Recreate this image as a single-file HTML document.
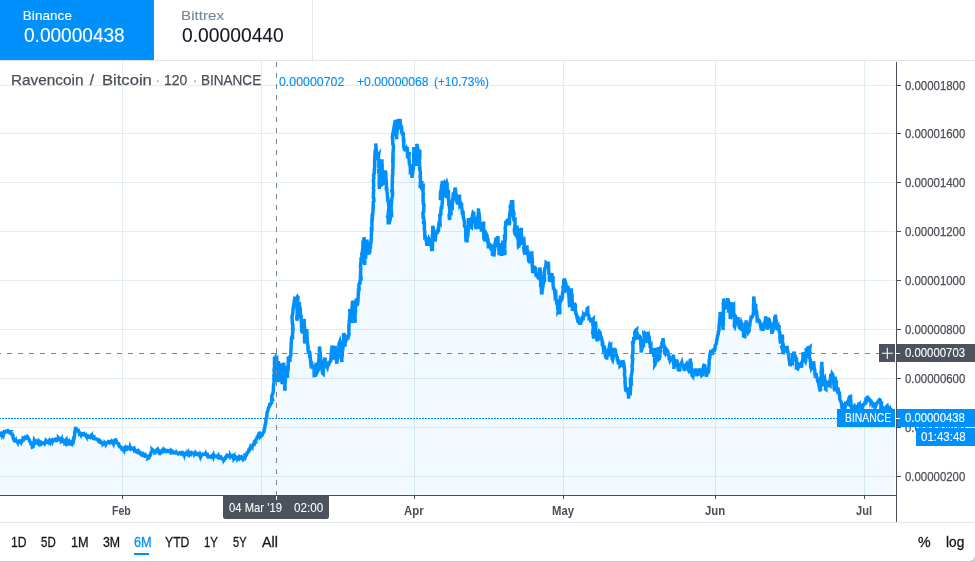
<!DOCTYPE html>
<html><head><meta charset="utf-8"><title>Ravencoin / Bitcoin</title>
<style>
html,body{margin:0;padding:0;background:#fff;}
body{width:975px;height:562px;position:relative;overflow:hidden;font-family:"Liberation Sans",sans-serif;color:#131722;}
.a{position:absolute;}
.t{position:absolute;white-space:nowrap;}
</style></head><body>

<div class="a" style="left:0;top:0;width:154px;height:60px;background:#0090fb;"></div>
<div class="a" style="left:312px;top:0;width:1px;height:60px;background:#e3e8ec;"></div>
<div class="a" style="left:0;top:60px;width:975px;height:1px;background:#e3e8ec;"></div>
<svg class="a" style="left:0;top:0;" width="975" height="562" viewBox="0 0 975 562">
<svg x="0" y="61" width="895" height="434" viewBox="0 61 895 434" overflow="hidden">
<rect x="0" y="85" width="895" height="1" fill="#e1ecf2"/>
<rect x="0" y="133" width="895" height="1" fill="#e1ecf2"/>
<rect x="0" y="182" width="895" height="1" fill="#e1ecf2"/>
<rect x="0" y="231" width="895" height="1" fill="#e1ecf2"/>
<rect x="0" y="280" width="895" height="1" fill="#e1ecf2"/>
<rect x="0" y="329" width="895" height="1" fill="#e1ecf2"/>
<rect x="0" y="378" width="895" height="1" fill="#e1ecf2"/>
<rect x="0" y="427" width="895" height="1" fill="#e1ecf2"/>
<rect x="0" y="476" width="895" height="1" fill="#e1ecf2"/>
<rect x="122" y="61" width="1" height="434" fill="#e1ecf2"/>
<rect x="261" y="61" width="1" height="434" fill="#e1ecf2"/>
<rect x="414" y="61" width="1" height="434" fill="#e1ecf2"/>
<rect x="563" y="61" width="1" height="434" fill="#e1ecf2"/>
<rect x="715" y="61" width="1" height="434" fill="#e1ecf2"/>
<rect x="864" y="61" width="1" height="434" fill="#e1ecf2"/>
<path d="M-0.3,435.1 L0.3,435.3 L0.5,434.3 L1.2,434.9 L1.7,434.6 L2.1,434.0 L2.3,431.3 L2.6,434.6 L3.3,433.3 L3.6,434.2 L4.2,431.9 L4.4,432.7 L5.1,431.9 L5.2,431.8 L5.9,431.2 L6.5,431.1 L6.3,431.6 L6.7,431.8 L7.6,431.0 L7.9,430.7 L8.4,431.0 L8.6,431.3 L9.1,431.8 L9.7,431.8 L9.5,432.0 L10.0,433.1 L10.4,433.1 L11.0,433.5 L11.5,433.9 L12.1,434.0 L12.2,434.9 L13.0,435.6 L12.9,437.4 L13.6,438.8 L13.9,439.9 L14.7,441.2 L14.9,442.3 L15.4,440.2 L15.5,442.3 L16.1,440.8 L16.2,441.1 L16.5,441.1 L17.1,441.3 L17.7,442.4 L18.0,441.2 L18.7,441.3 L18.6,441.6 L19.2,441.0 L19.4,440.9 L20.1,441.9 L20.8,442.6 L21.1,441.5 L21.5,441.0 L21.9,441.2 L22.5,440.3 L22.8,440.4 L23.0,440.2 L23.1,438.8 L23.9,439.5 L24.2,439.0 L24.5,440.0 L24.8,437.9 L25.7,438.1 L25.8,438.1 L26.4,437.0 L26.9,436.4 L27.3,436.9 L27.7,436.9 L28.2,438.5 L28.1,438.6 L28.9,439.3 L29.4,439.9 L29.6,441.0 L29.6,441.1 L30.7,442.7 L31.0,442.9 L31.0,444.0 L31.7,444.5 L32.3,445.6 L32.4,447.0 L33.1,446.7 L33.3,445.3 L33.4,444.1 L33.8,443.9 L34.3,440.3 L34.9,441.3 L35.1,441.5 L35.9,441.5 L36.4,441.2 L36.6,442.0 L36.9,441.7 L37.3,442.4 L38.1,443.3 L38.2,442.7 L38.3,443.9 L38.7,443.0 L39.6,443.4 L39.6,443.6 L40.5,443.2 L40.4,442.6 L41.4,443.6 L41.2,443.0 L41.6,442.5 L42.4,443.2 L42.3,443.5 L43.2,443.0 L43.7,442.6 L43.6,442.7 L44.1,442.6 L44.7,442.6 L44.9,443.1 L45.6,441.8 L45.9,440.7 L46.7,441.6 L47.0,441.1 L47.1,439.5 L47.4,441.0 L48.0,441.7 L48.1,441.1 L48.7,441.1 L49.2,440.5 L49.5,441.4 L50.1,442.3 L50.4,440.7 L50.8,440.8 L51.5,440.4 L52.0,440.0 L52.3,440.7 L52.4,440.2 L52.6,438.8 L53.0,440.2 L54.0,439.8 L54.0,440.0 L54.3,439.7 L55.3,439.5 L55.2,439.9 L55.4,440.1 L56.2,439.5 L56.3,439.1 L56.7,439.2 L57.2,440.0 L57.9,439.1 L58.5,438.9 L58.5,438.0 L59.2,438.8 L59.8,437.5 L59.6,438.6 L60.3,438.9 L60.8,440.2 L61.3,439.4 L61.4,441.1 L62.2,440.4 L62.5,440.4 L62.4,440.9 L63.2,441.6 L63.3,440.9 L63.8,441.7 L64.2,441.7 L64.7,442.1 L65.4,441.1 L65.3,442.6 L65.9,442.2 L66.1,443.0 L67.0,441.9 L67.3,443.2 L67.7,442.7 L68.4,443.9 L68.2,443.9 L68.9,442.4 L69.1,443.2 L69.5,443.3 L70.5,442.8 L70.8,443.4 L70.8,443.4 L71.4,443.9 L71.7,442.3 L72.4,442.7 L72.9,443.0 L73.3,441.2 L73.3,440.1 L73.7,436.8 L74.1,438.1 L74.5,436.4 L74.6,434.0 L74.8,431.7 L75.3,430.2 L75.5,427.8 L75.7,427.1 L76.1,429.1 L76.2,429.1 L76.7,430.4 L77.0,430.1 L77.7,429.9 L78.0,428.8 L78.2,430.5 L78.8,431.7 L79.1,432.3 L79.4,433.8 L79.8,433.6 L80.5,434.0 L80.8,434.6 L81.1,433.5 L82.0,434.1 L82.1,434.6 L82.3,433.9 L82.8,434.0 L83.5,433.7 L83.8,436.4 L83.8,436.0 L84.8,435.4 L84.7,436.3 L85.1,435.2 L85.9,435.3 L86.3,436.0 L86.4,434.3 L87.1,436.5 L87.5,436.4 L87.5,436.8 L88.1,437.3 L88.7,437.1 L89.3,437.3 L89.7,437.0 L90.2,436.5 L90.1,436.9 L90.6,437.5 L91.2,437.1 L91.4,438.3 L91.7,436.8 L92.1,437.2 L92.6,436.1 L93.3,437.2 L93.9,437.1 L93.9,437.3 L94.7,437.9 L95.1,438.4 L94.9,438.8 L95.9,439.1 L96.3,439.1 L96.7,439.5 L96.5,439.2 L97.1,439.3 L97.3,439.4 L97.8,439.9 L98.3,440.7 L98.8,440.1 L99.2,440.5 L100.0,441.6 L100.3,442.5 L100.8,442.7 L101.1,442.1 L101.7,442.9 L101.6,442.7 L101.8,443.1 L102.9,443.2 L103.0,444.0 L103.7,443.3 L103.8,443.7 L104.0,444.0 L104.8,443.9 L104.9,442.8 L105.1,443.0 L106.0,443.4 L106.1,444.0 L106.9,442.8 L106.8,442.9 L107.6,442.3 L108.0,441.8 L108.5,442.0 L109.0,442.4 L109.2,441.5 L109.4,441.5 L109.7,442.6 L110.3,442.7 L110.8,441.9 L111.5,442.4 L111.6,443.2 L111.7,442.9 L112.1,441.7 L113.1,443.0 L113.5,443.8 L114.0,442.0 L114.1,441.9 L114.2,441.2 L114.7,440.8 L114.9,440.1 L115.8,439.8 L116.3,441.0 L116.2,441.8 L117.0,442.4 L117.1,442.9 L117.6,443.0 L118.0,443.2 L118.8,443.8 L118.9,444.6 L119.0,445.6 L119.7,446.7 L120.2,446.7 L120.3,446.6 L120.7,446.8 L121.3,447.7 L121.9,448.2 L122.0,448.9 L122.5,448.7 L123.4,450.0 L123.4,448.7 L124.0,448.8 L124.1,448.3 L125.0,447.4 L125.1,447.8 L125.5,447.5 L126.2,448.0 L126.5,447.1 L126.8,448.8 L127.3,448.3 L127.5,447.9 L128.0,448.5 L128.4,448.2 L129.0,448.3 L129.2,448.4 L129.4,448.0 L130.1,448.3 L130.2,447.6 L130.6,448.6 L131.2,448.0 L132.0,448.9 L132.3,448.8 L132.8,449.3 L132.7,450.1 L133.5,448.5 L134.0,448.2 L134.2,449.0 L134.4,450.0 L134.7,449.7 L135.1,450.6 L135.6,451.1 L135.9,450.7 L136.9,450.7 L137.1,451.5 L137.5,452.2 L138.1,452.4 L138.2,452.5 L138.6,453.9 L138.9,452.2 L139.8,453.7 L139.5,452.8 L140.4,453.7 L140.5,453.0 L141.2,453.7 L141.3,453.8 L141.8,453.9 L142.4,453.6 L142.5,453.9 L142.9,454.6 L143.8,454.5 L143.7,454.8 L144.5,454.6 L145.1,454.8 L145.1,455.8 L145.6,455.7 L145.7,455.7 L146.8,456.2 L146.7,456.5 L147.5,456.6 L147.6,457.1 L148.3,457.7 L148.2,458.2 L149.1,457.7 L149.1,456.1 L149.9,455.2 L150.4,455.1 L150.5,454.1 L151.0,453.0 L151.1,452.3 L151.4,451.9 L152.4,450.4 L152.3,449.6 L153.2,450.4 L153.4,450.7 L153.9,451.1 L154.4,451.5 L154.4,451.4 L155.0,451.9 L155.0,452.1 L156.0,451.4 L156.3,451.0 L156.7,450.3 L156.9,449.7 L157.6,449.1 L158.1,450.1 L157.9,450.5 L158.8,452.4 L159.3,452.1 L159.2,452.4 L159.6,453.0 L160.1,453.5 L160.6,453.1 L161.3,452.1 L161.2,453.1 L161.8,451.7 L162.3,451.9 L162.9,451.6 L162.8,452.0 L163.2,451.2 L163.9,451.3 L164.3,450.5 L164.6,449.9 L165.3,450.5 L165.3,450.3 L166.1,450.4 L166.5,450.5 L167.1,450.5 L167.5,451.2 L167.9,451.3 L168.0,451.2 L168.5,451.5 L169.0,451.2 L169.0,451.3 L169.8,451.4 L170.3,451.7 L170.3,451.6 L170.7,451.1 L171.5,452.1 L171.6,452.2 L172.2,451.9 L172.9,452.3 L172.7,452.6 L173.7,452.5 L174.0,452.4 L173.9,452.2 L174.5,452.6 L175.2,453.0 L175.5,452.8 L175.8,452.5 L176.5,452.8 L176.6,452.4 L177.2,453.1 L177.7,453.5 L178.0,452.7 L178.0,452.8 L178.9,453.3 L179.1,453.1 L179.6,452.8 L179.7,452.9 L180.6,453.7 L180.4,453.2 L180.9,453.9 L181.3,453.9 L182.0,452.9 L182.6,453.6 L182.8,453.4 L183.2,454.1 L183.4,453.9 L184.0,453.7 L184.4,455.0 L184.7,454.0 L185.6,453.7 L185.6,453.8 L185.8,454.0 L186.5,454.1 L186.7,453.3 L187.6,454.2 L187.7,453.9 L188.4,453.8 L188.8,454.3 L188.9,453.9 L189.0,454.2 L189.7,453.8 L190.2,453.4 L190.9,453.3 L190.7,453.2 L191.2,454.0 L191.9,452.9 L192.4,453.5 L192.4,453.5 L193.0,453.6 L193.8,453.7 L194.0,453.5 L194.4,453.1 L194.5,454.0 L195.1,453.2 L195.6,453.7 L195.8,453.5 L196.1,453.4 L196.8,454.5 L197.2,454.6 L197.7,454.1 L198.3,454.6 L198.5,454.2 L198.9,454.5 L199.1,454.6 L199.9,455.2 L200.1,455.8 L200.4,454.5 L201.1,455.6 L201.3,455.1 L201.5,455.2 L201.9,455.0 L202.8,454.4 L202.8,454.2 L203.4,454.0 L204.0,453.0 L203.8,453.9 L204.9,454.3 L205.1,454.4 L205.5,454.5 L205.9,453.4 L206.3,454.0 L206.8,454.6 L207.3,454.6 L207.3,455.9 L207.7,456.5 L208.2,456.1 L209.0,456.8 L208.8,456.9 L209.8,457.8 L209.6,457.6 L210.6,456.7 L210.7,457.1 L210.9,457.2 L211.7,457.5 L212.2,457.2 L212.0,457.1 L212.6,456.2 L213.3,454.8 L213.7,456.3 L214.0,455.4 L214.6,456.1 L214.9,456.4 L215.4,456.1 L215.9,456.0 L216.1,456.0 L216.6,456.2 L217.0,456.7 L217.2,456.9 L217.9,456.0 L218.0,456.9 L218.7,457.5 L219.0,457.1 L219.2,457.6 L220.0,457.1 L220.4,457.0 L220.4,458.0 L221.0,458.3 L221.7,458.3 L222.1,459.1 L222.0,459.0 L222.9,459.4 L222.7,458.8 L223.6,458.9 L223.7,459.6 L224.1,458.9 L224.8,458.5 L225.3,458.5 L225.3,457.5 L225.9,456.7 L226.4,456.5 L226.9,456.5 L227.2,456.2 L227.2,455.2 L227.9,455.3 L228.1,455.6 L228.7,455.7 L229.4,456.6 L229.6,455.7 L230.3,455.8 L230.6,456.6 L230.6,455.8 L230.9,456.3 L232.0,455.8 L231.7,456.3 L232.8,456.5 L232.9,456.8 L233.2,456.6 L233.5,456.7 L233.8,458.6 L234.4,457.7 L234.6,458.6 L235.5,457.9 L235.9,456.9 L236.3,457.2 L236.3,457.8 L236.8,458.3 L237.2,458.2 L237.9,458.1 L237.9,458.3 L238.4,457.7 L238.8,458.2 L239.2,457.2 L239.8,458.1 L240.5,457.3 L240.5,457.1 L241.1,456.8 L241.4,458.2 L241.7,458.4 L242.3,458.1 L243.0,457.7 L243.2,457.7 L243.5,458.8 L243.9,458.2 L244.7,458.5 L245.0,457.7 L245.0,455.9 L245.5,456.2 L245.7,455.5 L246.4,455.0 L246.6,453.8 L247.4,453.2 L247.4,452.6 L248.0,452.1 L248.3,451.4 L248.9,450.1 L249.0,449.4 L249.4,449.1 L250.0,448.0 L250.2,448.4 L250.9,446.9 L251.6,447.4 L251.5,446.5 L252.1,446.9 L252.3,446.3 L252.8,445.4 L253.3,444.3 L254.1,444.2 L254.2,443.3 L254.4,443.4 L254.7,441.7 L255.6,441.8 L255.5,441.1 L256.4,438.9 L256.9,438.1 L257.1,437.7 L257.3,436.8 L258.0,436.5 L258.1,435.7 L258.9,433.7 L259.1,433.2 L259.5,433.1 L260.1,434.8 L260.3,434.6 L261.0,435.5 L260.9,436.4 L261.9,435.5 L262.1,435.3 L262.4,433.8 L262.5,433.5 L263.6,432.3 L263.9,431.3 L264.3,428.7 L264.6,428.6 L264.9,426.0 L265.3,424.3 L266.0,421.0 L265.8,418.9 L266.8,417.4 L266.9,414.1 L267.1,412.2 L267.6,411.5 L267.9,410.4 L268.6,407.3 L268.8,406.8 L269.5,406.3 L269.7,404.9 L270.1,405.0 L270.3,404.8 L271.1,402.5 L271.3,403.9 L271.6,402.6 L272.2,398.5 L272.8,400.8 L272.9,399.5 L272.5,401.2 L272.3,400.2 L271.8,399.8 L271.5,400.4 L271.8,399.3 L271.8,396.1 L272.4,394.7 L273.1,392.4 L273.4,389.3 L273.4,387.4 L273.6,384.5 L273.9,383.7 L274.2,380.6 L273.9,379.7 L274.1,377.3 L273.8,375.7 L274.4,373.5 L274.0,370.0 L274.3,367.7 L274.7,367.0 L274.4,364.2 L274.6,360.1 L274.4,358.4 L274.7,358.0 L274.6,359.1 L274.8,361.7 L274.8,366.5 L275.3,364.5 L274.8,367.7 L275.4,372.1 L275.4,374.0 L275.4,374.4 L275.0,380.0 L275.4,380.2 L275.5,381.7 L275.4,380.0 L275.9,377.0 L275.9,375.6 L276.0,374.2 L275.8,371.1 L276.2,367.2 L276.6,366.2 L276.1,362.9 L276.2,361.1 L276.8,360.1 L276.9,362.3 L276.7,364.2 L276.8,366.3 L277.3,368.9 L277.0,371.6 L277.2,368.7 L277.2,375.5 L277.6,373.7 L277.7,379.1 L277.9,382.2 L278.0,379.0 L277.6,377.7 L278.2,376.7 L277.8,371.5 L277.9,371.3 L278.0,370.2 L278.3,367.0 L278.7,364.6 L278.4,363.1 L278.4,361.1 L278.7,363.8 L278.8,366.1 L278.8,368.7 L278.9,367.2 L279.4,371.8 L279.7,371.4 L279.3,377.3 L279.5,377.2 L279.8,379.9 L279.7,381.3 L279.7,380.3 L280.3,376.3 L280.4,375.3 L280.2,372.5 L280.8,370.8 L280.8,368.4 L280.9,368.7 L280.8,365.1 L281.3,363.4 L281.5,365.0 L281.7,368.7 L281.7,373.5 L281.6,372.8 L282.1,373.4 L282.0,375.0 L282.2,378.9 L281.9,381.6 L282.2,384.0 L282.2,381.4 L282.9,378.4 L282.9,378.2 L282.8,374.7 L283.3,376.8 L283.3,370.3 L283.1,366.1 L283.7,366.1 L283.8,362.8 L283.6,364.1 L284.1,369.1 L284.1,367.9 L284.1,373.3 L284.1,374.3 L284.5,376.8 L284.5,377.4 L284.4,382.5 L284.3,384.8 L284.5,383.2 L284.8,387.8 L284.6,390.6 L285.2,387.8 L284.9,386.8 L285.0,384.0 L285.3,381.0 L285.5,379.2 L285.7,376.4 L285.5,375.2 L285.4,372.4 L285.8,370.5 L285.9,369.4 L285.8,365.4 L286.5,372.4 L286.7,372.6 L286.9,374.2 L286.8,374.8 L287.5,377.8 L287.4,373.6 L287.4,371.2 L287.6,372.9 L288.0,369.6 L288.2,368.5 L288.3,362.6 L288.1,362.0 L288.4,361.1 L288.1,356.7 L288.7,357.9 L289.3,358.4 L289.4,356.8 L289.5,360.2 L290.0,361.9 L290.0,355.5 L290.3,357.3 L290.9,354.2 L290.8,351.7 L291.0,349.1 L291.1,349.3 L291.1,343.8 L291.5,340.1 L291.4,338.9 L291.8,337.4 L292.5,339.3 L292.5,333.6 L292.8,331.9 L293.0,329.1 L292.6,329.0 L292.8,324.4 L292.3,323.5 L292.2,320.3 L291.9,316.0 L292.1,317.0 L292.5,314.3 L293.0,311.9 L292.9,308.9 L293.4,307.4 L293.7,304.8 L293.7,304.8 L294.6,299.5 L294.9,299.9 L295.3,299.2 L295.8,297.8 L296.0,297.3 L296.1,298.6 L296.7,297.8 L297.0,301.3 L297.9,295.8 L297.8,301.9 L297.2,297.5 L297.3,301.4 L297.0,305.8 L297.4,305.1 L296.9,308.3 L297.3,311.8 L296.8,317.9 L296.9,320.0 L296.5,320.8 L297.0,319.7 L297.2,320.0 L297.1,319.2 L297.8,316.6 L297.5,311.1 L298.4,309.6 L298.1,309.0 L298.6,307.5 L298.7,307.2 L299.3,302.9 L299.4,302.0 L299.5,306.2 L300.0,311.6 L300.2,307.5 L300.5,316.3 L300.6,315.7 L301.2,316.3 L301.1,318.0 L301.4,321.7 L301.8,332.1 L302.0,324.0 L301.8,325.4 L302.4,327.4 L302.5,333.7 L302.5,333.1 L302.7,330.5 L302.9,324.8 L303.2,329.0 L303.5,325.0 L303.8,322.8 L304.2,320.7 L304.1,318.9 L304.3,325.8 L304.4,328.6 L304.2,328.8 L304.7,327.2 L304.9,330.9 L304.5,337.2 L304.4,338.9 L304.6,340.9 L304.7,343.5 L304.8,342.3 L305.5,340.3 L305.7,339.5 L305.4,337.5 L306.0,336.4 L305.9,335.5 L306.3,330.3 L306.5,331.5 L306.7,329.2 L307.0,334.4 L307.2,340.4 L307.0,339.8 L307.2,338.6 L307.3,340.8 L307.7,344.6 L308.0,346.3 L308.0,347.2 L308.1,350.5 L308.5,352.3 L309.4,352.2 L309.8,354.8 L309.6,357.7 L310.2,356.7 L310.5,359.8 L310.8,362.9 L311.6,361.2 L311.7,364.0 L312.5,366.7 L312.6,369.2 L313.2,365.7 L313.5,367.3 L314.1,369.3 L314.1,370.8 L314.2,375.6 L315.1,375.5 L314.9,373.6 L315.2,371.9 L315.8,370.6 L315.7,366.9 L315.9,364.4 L316.6,364.5 L316.7,363.5 L317.0,366.7 L317.8,370.9 L317.9,370.7 L318.2,370.1 L318.7,368.0 L318.4,362.8 L318.4,363.3 L318.6,360.8 L319.1,358.3 L319.0,355.5 L319.6,355.6 L319.6,353.2 L319.4,349.0 L319.5,346.5 L320.2,353.5 L320.1,352.4 L320.4,354.8 L320.6,357.2 L320.6,357.7 L320.6,360.5 L321.1,363.5 L321.1,368.1 L321.7,364.5 L322.1,369.6 L322.6,373.1 L323.2,373.7 L323.2,373.7 L323.4,369.2 L323.6,368.3 L324.2,365.0 L323.9,364.7 L324.2,361.1 L324.7,358.9 L325.0,357.6 L325.2,360.5 L325.4,361.0 L326.1,362.1 L326.4,363.7 L326.9,366.3 L327.3,367.2 L327.7,365.3 L328.0,366.7 L328.2,364.5 L328.8,364.3 L329.0,363.7 L329.9,361.9 L330.2,361.1 L330.2,361.7 L330.8,360.6 L331.1,356.5 L331.2,356.8 L331.0,353.9 L331.6,351.3 L331.6,349.7 L332.0,348.2 L332.0,345.6 L332.4,347.6 L332.5,346.6 L332.7,350.8 L333.0,356.7 L333.1,355.9 L333.3,357.5 L333.9,359.4 L334.0,356.3 L334.0,354.8 L334.6,350.1 L335.1,349.1 L335.2,345.9 L335.4,347.9 L336.0,352.8 L335.7,352.8 L336.2,357.7 L336.7,357.4 L336.7,363.8 L337.0,361.0 L337.2,361.6 L337.6,357.7 L337.6,357.0 L338.1,357.0 L337.9,353.6 L338.2,351.0 L338.9,349.3 L339.1,346.2 L338.9,344.3 L339.8,341.8 L340.0,343.0 L339.6,347.3 L340.1,349.8 L340.8,350.8 L340.8,354.1 L341.3,354.8 L341.6,357.3 L341.5,356.2 L341.9,362.2 L341.8,358.1 L342.2,356.1 L342.2,355.6 L342.3,352.8 L342.7,349.8 L342.8,350.4 L343.1,342.6 L343.1,340.8 L343.2,344.1 L343.6,340.1 L343.5,334.1 L343.4,333.1 L344.2,337.1 L343.9,341.4 L344.5,343.1 L344.7,344.4 L344.9,346.7 L345.2,341.5 L345.9,341.1 L346.2,337.4 L346.7,338.2 L347.0,337.3 L347.3,339.9 L347.7,335.1 L348.0,337.1 L348.2,337.2 L349.0,334.3 L348.8,330.9 L348.9,328.9 L348.8,328.7 L349.2,321.7 L349.1,322.8 L349.3,320.0 L349.3,322.0 L350.1,312.6 L349.6,310.7 L350.3,310.3 L350.7,315.5 L350.6,316.1 L351.5,319.1 L351.5,323.1 L351.6,317.1 L352.0,314.5 L351.8,312.9 L352.4,313.1 L352.0,309.0 L352.3,310.4 L352.1,307.5 L352.5,301.8 L352.4,300.6 L352.6,301.7 L353.1,305.7 L353.3,307.7 L353.6,309.5 L353.6,311.4 L353.7,313.0 L354.6,314.7 L354.6,320.0 L354.9,321.5 L355.1,322.6 L355.2,321.9 L355.1,318.9 L354.9,317.4 L355.3,312.6 L355.6,311.3 L355.3,310.2 L355.4,307.0 L356.0,306.2 L355.8,306.7 L356.1,301.1 L356.3,301.2 L356.9,298.7 L356.8,304.3 L357.6,304.2 L358.0,300.3 L358.1,297.0 L358.1,297.6 L358.5,290.8 L358.5,292.5 L358.4,288.4 L359.2,290.8 L358.9,284.9 L359.8,282.2 L360.1,282.3 L360.5,277.8 L361.0,280.8 L361.0,276.4 L360.8,275.3 L360.3,279.2 L360.8,267.9 L360.4,266.1 L360.4,267.8 L360.5,266.2 L361.1,260.3 L361.0,257.3 L361.1,258.8 L362.0,256.6 L361.7,252.7 L362.1,253.6 L362.8,247.9 L363.0,241.1 L363.1,244.2 L363.3,244.0 L363.5,240.8 L364.2,238.0 L364.2,237.0 L364.0,242.4 L364.3,239.3 L364.5,244.6 L364.4,244.8 L364.3,245.4 L364.1,245.5 L364.4,252.9 L364.8,251.5 L364.3,251.5 L364.8,255.0 L364.3,261.9 L364.8,265.1 L364.7,259.8 L365.1,257.1 L365.5,258.9 L365.9,253.9 L365.6,251.0 L366.3,246.5 L366.3,247.5 L366.3,243.4 L366.5,242.6 L367.0,239.5 L367.2,247.7 L367.4,244.3 L367.7,246.0 L368.1,250.9 L368.7,252.9 L368.9,253.1 L368.7,253.0 L369.2,254.6 L369.2,252.2 L369.9,251.7 L369.6,249.1 L369.7,248.2 L370.5,247.7 L370.2,242.2 L370.7,244.2 L371.0,241.3 L371.3,239.3 L371.3,236.9 L371.5,233.8 L371.4,229.2 L371.9,229.3 L371.9,225.0 L371.9,222.1 L372.2,213.9 L372.3,221.3 L372.3,215.4 L372.4,217.2 L373.0,210.4 L373.1,206.5 L373.2,208.5 L373.3,207.6 L373.1,204.1 L373.2,205.1 L373.3,201.9 L373.9,201.1 L373.8,198.2 L373.3,197.7 L373.4,193.9 L373.7,189.8 L373.3,188.2 L373.7,185.8 L373.5,182.2 L373.4,179.5 L374.0,178.0 L373.5,176.0 L373.9,174.2 L374.2,174.8 L374.2,171.4 L374.7,166.8 L374.8,164.9 L374.6,160.7 L374.7,166.2 L374.8,158.4 L375.0,154.1 L375.2,154.3 L375.1,153.9 L375.5,150.3 L376.0,147.1 L375.9,146.0 L375.7,143.4 L376.3,150.0 L376.2,152.7 L376.9,153.8 L376.4,157.5 L377.1,159.7 L377.1,159.3 L377.7,157.4 L378.4,156.0 L378.3,154.7 L378.7,154.2 L378.3,157.0 L378.9,160.6 L378.9,168.3 L379.1,164.0 L379.0,171.7 L378.6,169.0 L378.7,173.7 L379.1,171.5 L379.4,178.0 L379.3,179.8 L379.1,181.7 L379.3,185.0 L379.4,186.8 L379.5,189.1 L379.2,185.3 L379.7,183.9 L380.0,180.1 L380.1,176.5 L380.0,179.8 L380.8,178.8 L380.8,173.7 L381.0,172.9 L381.2,169.8 L381.0,163.8 L381.6,165.8 L381.8,161.9 L381.4,165.3 L382.0,159.2 L381.9,161.7 L382.2,165.8 L382.1,173.8 L382.1,164.1 L381.9,166.5 L382.1,164.2 L382.0,172.6 L382.6,175.3 L382.3,176.3 L382.3,179.6 L382.3,184.1 L382.9,183.6 L382.9,182.5 L383.2,179.5 L383.6,174.0 L384.0,172.8 L384.7,173.6 L385.2,170.5 L385.6,172.4 L385.8,173.5 L386.0,179.0 L386.3,181.1 L386.4,185.7 L386.3,190.4 L386.7,187.4 L387.0,191.4 L387.5,195.4 L387.2,193.2 L387.9,200.0 L387.8,200.8 L388.5,201.8 L388.3,200.2 L388.8,206.4 L389.0,206.6 L388.4,211.4 L388.1,214.7 L387.6,217.5 L387.4,215.5 L388.2,218.6 L388.2,220.0 L389.0,219.0 L389.1,224.4 L389.4,221.5 L390.2,219.8 L390.3,215.7 L390.4,212.9 L390.6,217.6 L391.0,211.3 L391.4,211.9 L391.1,206.5 L391.5,204.0 L391.4,204.5 L391.5,202.3 L391.8,197.8 L392.0,198.4 L392.5,195.0 L392.4,193.2 L392.1,192.3 L392.5,192.4 L392.2,189.0 L392.2,183.8 L392.4,181.1 L392.3,178.5 L392.6,175.3 L392.5,175.2 L392.9,172.9 L392.7,169.9 L392.9,168.6 L393.1,156.2 L392.6,163.1 L393.2,159.6 L392.8,158.5 L393.1,154.8 L392.9,153.7 L393.3,150.0 L393.1,150.7 L393.5,147.1 L392.8,142.4 L392.7,144.8 L392.7,140.1 L392.7,139.9 L392.3,137.4 L393.0,132.8 L393.0,132.7 L393.2,132.6 L393.9,128.2 L394.2,128.4 L394.5,124.7 L395.1,121.5 L395.5,121.4 L395.5,124.0 L396.2,121.2 L396.2,122.8 L396.7,121.5 L397.1,125.2 L396.9,129.5 L396.6,133.6 L396.9,131.5 L396.3,126.7 L396.2,134.6 L396.6,139.3 L396.6,135.0 L396.7,134.9 L396.9,132.4 L397.6,126.8 L397.6,124.3 L397.9,123.0 L398.6,123.2 L398.7,120.6 L399.4,120.6 L399.9,120.6 L399.8,127.2 L400.1,121.0 L400.7,127.3 L401.3,127.1 L401.6,125.1 L401.3,126.4 L401.7,127.9 L401.5,133.5 L402.1,130.7 L402.1,133.3 L402.6,134.3 L403.2,132.2 L403.3,136.5 L403.6,142.0 L403.8,138.1 L403.7,145.3 L404.4,150.3 L404.6,148.7 L404.9,150.3 L404.9,147.0 L405.4,151.4 L406.0,149.9 L406.2,150.9 L406.8,146.7 L407.3,148.6 L407.6,158.3 L408.6,155.7 L408.9,155.3 L409.6,152.1 L408.8,157.3 L409.3,162.1 L409.4,163.8 L410.1,165.0 L410.4,168.8 L410.4,172.3 L411.3,172.0 L411.1,166.2 L411.7,172.2 L412.0,178.0 L412.2,174.8 L412.9,171.9 L412.9,169.0 L413.1,170.4 L413.7,163.8 L414.0,161.5 L413.6,160.5 L413.6,161.5 L413.7,155.1 L414.0,150.0 L413.9,150.0 L413.9,148.6 L413.9,147.0 L413.9,150.7 L414.6,151.3 L415.0,152.2 L415.4,156.8 L415.4,157.4 L416.1,160.7 L416.5,165.9 L416.1,160.0 L416.3,159.7 L417.0,158.4 L416.7,154.7 L416.9,152.0 L417.2,150.4 L416.8,143.9 L417.5,147.0 L417.8,148.7 L418.5,152.7 L419.1,151.1 L419.3,149.6 L419.4,153.8 L419.9,150.0 L419.6,158.2 L419.9,155.2 L419.5,160.2 L419.5,163.2 L419.6,164.3 L419.7,170.5 L419.8,166.0 L420.0,170.4 L420.5,173.0 L420.0,176.6 L420.2,177.8 L420.4,175.8 L420.5,181.2 L420.2,186.4 L420.7,186.4 L421.1,186.1 L421.9,181.1 L421.8,188.6 L422.4,188.9 L423.1,188.0 L423.0,191.7 L423.4,194.2 L423.0,194.8 L423.2,202.2 L423.2,200.3 L423.4,204.9 L423.4,203.1 L423.9,204.6 L423.6,213.0 L423.3,212.4 L422.9,211.7 L423.3,218.9 L423.6,216.7 L423.9,223.7 L423.5,223.0 L424.1,221.9 L424.5,224.9 L424.3,229.3 L424.7,230.3 L424.9,239.8 L425.2,236.1 L425.7,237.8 L426.1,241.1 L426.3,237.0 L426.9,245.8 L426.7,244.0 L427.4,240.8 L428.1,240.4 L428.1,240.2 L428.8,238.3 L429.0,245.8 L429.4,239.9 L430.0,241.0 L430.1,242.3 L430.9,242.9 L431.0,241.4 L431.3,244.5 L431.8,251.2 L432.0,247.1 L431.8,243.5 L432.4,251.0 L432.5,238.7 L432.2,234.6 L432.2,234.3 L432.8,235.6 L432.6,231.7 L432.7,231.3 L432.7,225.8 L433.1,227.4 L433.5,229.8 L434.1,233.0 L434.2,235.2 L434.8,237.1 L435.0,241.6 L435.7,235.5 L435.8,234.9 L436.4,231.9 L436.5,230.7 L437.2,233.6 L438.0,229.0 L437.8,228.6 L438.4,232.1 L438.6,226.2 L438.9,223.7 L439.4,221.6 L440.0,222.5 L439.8,213.6 L440.1,215.9 L440.9,214.1 L440.8,212.2 L441.2,207.6 L441.8,207.5 L442.1,204.4 L442.3,202.1 L442.4,201.6 L442.3,198.6 L441.6,198.5 L441.5,193.7 L441.2,195.2 L440.4,195.9 L440.3,197.7 L440.4,200.3 L440.6,191.5 L441.3,191.1 L441.3,187.6 L441.8,185.1 L441.9,184.6 L442.3,184.8 L442.3,180.7 L442.5,184.8 L442.9,185.8 L443.1,188.3 L443.9,189.7 L444.0,195.4 L444.2,195.5 L444.8,192.1 L445.3,191.5 L445.5,186.8 L445.5,183.2 L446.3,184.1 L446.7,183.0 L447.3,185.3 L447.1,183.4 L447.3,193.2 L447.5,198.4 L447.8,193.6 L448.4,189.8 L448.8,205.6 L449.0,199.5 L449.2,202.5 L449.7,209.7 L449.7,207.5 L449.9,213.6 L449.2,214.5 L449.4,215.5 L449.1,214.9 L449.6,220.0 L449.9,213.2 L450.6,212.0 L451.1,215.4 L451.0,209.5 L451.4,206.7 L452.2,207.3 L452.5,202.0 L452.6,201.2 L453.0,197.8 L453.4,192.4 L453.5,196.1 L454.2,195.5 L454.6,193.0 L455.0,187.6 L455.3,189.2 L455.7,191.6 L455.6,196.0 L455.9,193.1 L456.2,196.4 L456.7,202.3 L457.0,199.2 L457.5,204.6 L457.8,200.9 L457.8,196.9 L458.3,198.1 L459.0,203.4 L459.5,194.6 L459.5,196.2 L459.9,204.1 L460.4,203.1 L461.0,205.5 L461.2,205.1 L461.5,202.6 L461.7,209.3 L461.9,207.8 L462.4,213.7 L462.3,215.1 L463.1,210.9 L463.2,216.8 L463.2,216.4 L463.9,219.3 L464.5,221.8 L464.5,225.9 L465.5,227.6 L465.6,226.9 L465.7,232.1 L465.8,235.9 L466.7,234.2 L466.5,239.8 L467.2,242.3 L467.1,241.1 L467.1,238.1 L467.2,236.1 L467.6,237.6 L468.0,233.4 L468.3,229.4 L468.2,225.8 L468.6,226.8 L468.4,224.3 L468.6,224.2 L468.3,220.3 L468.5,218.2 L469.1,220.4 L470.0,222.4 L470.2,220.5 L470.2,226.6 L470.7,226.6 L471.6,227.4 L471.9,225.6 L472.0,219.8 L472.0,217.2 L472.1,218.3 L472.7,214.3 L473.0,213.1 L473.3,213.5 L473.6,211.6 L474.0,217.9 L474.5,220.5 L474.9,220.3 L475.6,223.3 L475.8,223.7 L475.9,229.1 L476.4,223.4 L476.8,224.5 L477.6,221.5 L477.5,217.6 L478.1,216.2 L478.6,208.4 L478.4,210.8 L478.8,212.2 L479.2,214.5 L479.4,216.8 L479.6,217.3 L479.6,229.1 L479.6,227.1 L479.9,224.5 L480.1,222.9 L480.5,225.3 L481.2,229.2 L481.5,231.6 L481.7,226.5 L482.2,224.5 L483.0,222.8 L482.7,225.8 L483.4,229.3 L483.7,221.5 L483.6,230.5 L483.8,238.0 L484.1,239.0 L484.4,239.8 L485.0,239.8 L485.5,237.8 L485.4,232.1 L485.9,232.9 L486.8,236.0 L487.0,234.7 L487.4,242.3 L487.2,238.0 L487.8,238.7 L488.2,243.5 L488.4,248.5 L489.0,243.8 L489.4,244.7 L489.9,243.4 L490.0,246.2 L490.4,247.2 L491.1,245.8 L491.2,249.3 L491.7,248.3 L492.4,251.3 L492.4,255.7 L493.1,253.2 L493.3,248.0 L493.9,256.5 L494.6,248.4 L494.4,246.5 L495.2,243.0 L495.5,241.4 L496.2,242.5 L496.3,244.0 L497.0,237.8 L497.4,240.1 L497.4,240.1 L496.9,242.4 L496.7,237.4 L496.3,244.1 L495.8,245.2 L495.2,245.0 L496.2,241.8 L496.2,238.6 L496.9,246.2 L497.5,237.3 L497.6,240.7 L497.9,236.1 L498.1,242.6 L498.3,246.5 L498.9,248.7 L499.1,254.1 L499.3,254.8 L499.9,251.3 L500.3,252.4 L500.3,242.9 L501.1,253.8 L501.5,255.8 L501.6,253.3 L501.9,255.9 L502.1,251.6 L502.3,252.1 L502.6,249.2 L503.0,246.1 L502.8,247.5 L502.8,240.6 L503.2,244.6 L503.5,245.6 L504.3,251.6 L504.3,251.3 L504.5,254.8 L505.0,253.0 L504.7,248.4 L504.8,249.1 L504.7,248.2 L504.8,244.2 L504.6,239.2 L505.1,239.8 L505.1,242.0 L505.3,235.7 L505.3,233.9 L505.3,232.4 L505.4,230.6 L505.1,227.9 L505.6,225.9 L505.9,220.9 L506.2,221.6 L506.6,223.1 L507.4,219.1 L507.6,222.3 L508.2,224.5 L508.1,220.8 L508.7,219.6 L509.4,225.2 L509.6,222.0 L509.5,220.0 L509.4,219.9 L509.6,217.1 L509.8,213.9 L510.4,214.2 L510.4,206.4 L510.4,204.9 L510.1,208.1 L511.0,206.5 L511.3,202.9 L511.4,200.3 L511.8,204.3 L512.5,203.8 L512.6,200.1 L512.9,206.8 L512.7,213.3 L513.1,211.3 L513.2,209.7 L513.4,214.6 L513.8,214.5 L513.4,217.1 L513.9,219.6 L514.6,219.5 L514.8,218.0 L514.9,217.1 L515.0,219.8 L515.1,223.9 L515.1,222.9 L514.9,225.9 L514.7,233.1 L514.3,229.6 L514.5,229.2 L514.8,233.7 L515.1,234.1 L515.7,231.5 L516.1,231.4 L516.3,231.8 L517.0,225.7 L517.2,229.5 L517.6,230.0 L517.8,230.1 L518.1,228.5 L517.8,238.6 L518.5,241.7 L518.2,243.5 L518.4,244.7 L518.5,246.4 L519.0,246.0 L518.9,247.4 L519.7,241.1 L519.7,234.2 L520.0,236.0 L520.4,233.5 L520.7,232.4 L520.8,230.1 L521.4,228.0 L521.3,231.0 L521.3,237.3 L521.5,234.4 L522.0,238.4 L522.1,244.9 L522.0,242.5 L522.5,240.8 L523.2,244.4 L523.4,241.3 L523.9,240.6 L524.2,245.2 L524.1,247.7 L523.8,248.1 L523.9,248.8 L524.2,251.4 L524.2,252.1 L525.0,254.4 L525.1,253.5 L525.6,251.4 L525.9,254.6 L526.0,248.7 L527.0,245.4 L527.0,249.7 L527.6,253.7 L527.8,249.8 L528.4,257.8 L528.7,260.7 L529.4,261.4 L529.5,263.4 L529.7,259.8 L530.1,255.6 L530.7,255.3 L531.3,253.9 L531.9,252.1 L532.0,252.7 L531.6,251.7 L532.3,260.6 L531.8,260.4 L532.0,262.3 L532.1,263.0 L532.3,266.1 L532.6,270.6 L532.7,273.0 L533.3,271.6 L533.7,266.1 L534.0,268.4 L534.9,272.5 L535.2,267.9 L535.5,268.1 L535.8,269.4 L536.0,274.9 L536.4,274.9 L537.1,272.1 L537.4,277.7 L538.2,274.1 L538.2,279.1 L538.6,277.2 L538.9,279.5 L539.4,274.4 L539.7,273.2 L539.8,267.5 L540.2,269.7 L540.3,273.5 L540.1,270.2 L540.7,272.9 L540.4,280.2 L540.7,281.7 L540.7,284.5 L541.1,284.3 L541.2,285.1 L541.5,292.6 L541.9,294.3 L542.2,290.1 L542.9,286.7 L543.0,278.9 L543.5,277.6 L544.2,281.1 L544.5,280.2 L544.4,271.9 L544.8,268.2 L545.4,267.2 L545.7,267.0 L546.1,262.7 L546.8,263.3 L547.0,265.3 L547.4,266.8 L547.7,263.7 L548.3,261.8 L548.6,267.4 L548.7,271.2 L548.8,273.5 L549.4,274.2 L549.4,279.1 L549.8,279.3 L549.4,281.7 L550.1,280.2 L550.8,279.7 L550.8,275.4 L551.5,273.1 L551.6,278.1 L551.9,273.0 L552.1,278.8 L553.0,278.4 L553.1,285.7 L553.3,286.3 L553.5,288.4 L554.2,288.8 L554.8,292.2 L555.1,295.8 L555.8,294.6 L556.0,298.8 L556.6,300.3 L556.8,304.7 L557.0,301.2 L557.6,306.2 L558.0,305.4 L558.0,311.5 L558.8,310.3 L559.2,312.2 L559.6,309.8 L559.9,314.4 L559.4,300.5 L559.8,305.4 L560.1,302.6 L560.1,300.5 L560.3,300.4 L560.1,300.4 L560.5,296.4 L560.7,295.7 L560.8,301.7 L561.2,297.9 L561.9,297.2 L561.8,300.2 L562.4,297.1 L562.5,293.1 L563.0,290.9 L563.2,289.7 L562.9,285.6 L563.6,286.8 L563.8,279.6 L564.3,285.2 L564.4,278.3 L565.0,281.8 L565.2,281.0 L566.0,284.3 L566.3,286.9 L566.8,288.6 L566.7,289.8 L567.6,289.0 L567.5,292.1 L567.9,285.8 L568.3,290.0 L568.8,288.9 L568.8,290.5 L568.7,292.8 L569.2,295.6 L568.9,298.2 L569.1,297.5 L569.2,301.1 L569.7,307.2 L570.0,300.9 L569.9,298.1 L570.0,294.0 L570.4,293.7 L571.0,293.5 L570.8,290.3 L570.8,291.5 L571.4,288.2 L571.4,295.9 L571.5,294.6 L572.0,293.5 L572.2,300.5 L572.3,305.1 L572.6,308.0 L572.3,310.5 L572.4,309.5 L572.5,310.8 L573.3,306.6 L573.5,311.2 L574.0,308.2 L574.3,307.0 L574.4,302.8 L575.3,305.0 L575.2,309.7 L575.7,311.6 L575.9,313.9 L576.4,314.3 L576.9,316.7 L577.1,316.3 L577.9,317.4 L578.1,317.9 L578.1,321.7 L578.8,322.3 L579.5,322.0 L579.8,321.6 L579.8,323.3 L580.6,323.3 L580.9,322.2 L581.6,320.9 L581.9,320.5 L582.3,316.1 L582.6,318.9 L583.0,317.0 L583.1,320.0 L583.5,315.2 L584.5,316.8 L584.4,316.6 L584.9,313.4 L585.5,315.8 L586.2,312.5 L585.9,313.2 L586.6,313.3 L587.3,308.3 L587.7,308.1 L587.7,311.1 L588.0,313.7 L588.8,315.6 L589.3,320.4 L589.6,319.5 L589.7,318.6 L590.3,319.0 L590.8,321.1 L591.4,321.1 L591.3,322.3 L592.3,319.8 L592.3,321.6 L592.6,319.6 L593.2,319.0 L592.8,325.2 L593.4,326.4 L592.8,331.5 L593.1,331.4 L593.1,333.1 L593.3,335.9 L593.6,335.9 L593.8,338.6 L593.9,335.3 L594.0,337.9 L594.1,335.4 L594.8,333.4 L594.8,331.2 L594.9,327.0 L595.4,321.4 L595.9,325.8 L595.5,325.9 L596.0,332.7 L596.3,333.8 L596.2,337.0 L597.0,337.3 L596.9,341.2 L597.6,338.8 L597.8,335.6 L598.3,335.2 L598.6,332.9 L599.2,335.0 L599.3,333.1 L599.5,331.8 L600.1,332.5 L600.5,336.3 L600.7,336.0 L601.6,338.7 L602.2,341.3 L602.4,345.9 L602.7,342.5 L603.1,347.6 L603.3,346.1 L603.6,349.7 L604.7,348.4 L605.0,349.5 L605.2,350.5 L605.2,354.4 L605.6,356.6 L606.6,358.3 L606.4,359.6 L606.9,357.3 L607.8,354.5 L607.8,356.0 L608.4,354.8 L608.7,349.6 L609.4,346.9 L609.3,346.3 L609.7,344.7 L610.3,345.7 L610.5,345.5 L610.4,346.8 L610.9,347.5 L611.4,350.9 L611.8,352.1 L611.8,355.7 L612.1,357.9 L612.5,359.7 L612.6,359.9 L613.0,357.8 L613.3,356.1 L613.6,353.5 L614.1,353.3 L614.2,348.0 L614.9,350.9 L615.2,348.6 L616.1,356.3 L615.9,353.4 L616.9,356.9 L617.2,357.5 L617.4,360.1 L618.1,360.4 L618.3,363.5 L618.4,364.4 L618.8,360.0 L619.8,365.0 L620.0,363.7 L620.1,366.0 L620.9,365.3 L621.2,364.4 L621.5,363.7 L621.8,362.8 L622.7,361.1 L622.7,360.3 L623.3,362.1 L623.6,362.7 L623.7,365.2 L624.0,365.1 L624.3,367.2 L624.8,371.2 L624.5,372.4 L624.5,375.0 L625.0,377.5 L625.1,378.2 L625.0,381.9 L625.2,384.2 L625.3,385.3 L625.4,387.7 L625.7,390.5 L625.7,391.5 L626.3,390.4 L626.4,390.5 L626.9,387.6 L627.3,390.5 L627.7,391.3 L628.3,393.8 L628.7,398.5 L628.7,395.6 L629.4,393.4 L629.9,390.3 L629.7,388.5 L630.4,389.8 L630.5,386.0 L630.4,381.4 L631.2,382.1 L631.1,379.9 L631.2,375.9 L631.6,374.1 L632.0,371.5 L632.2,370.0 L632.2,366.6 L632.0,365.6 L632.3,364.7 L632.7,358.6 L632.1,357.8 L632.3,355.5 L632.8,352.8 L632.8,351.8 L632.9,350.0 L633.0,347.6 L632.7,343.7 L632.9,343.8 L633.5,342.5 L633.7,337.0 L634.5,338.6 L634.9,337.8 L634.8,332.2 L635.4,331.2 L635.9,330.1 L636.5,329.6 L636.3,331.2 L636.5,333.3 L636.5,335.8 L636.7,336.6 L637.0,336.2 L637.3,339.4 L637.8,336.2 L637.8,339.0 L638.6,337.0 L639.1,338.3 L639.2,334.8 L639.6,336.5 L640.3,337.2 L640.5,338.4 L640.7,340.4 L640.8,345.3 L640.8,343.9 L641.2,346.3 L640.9,347.5 L641.3,349.2 L641.1,352.5 L641.5,350.6 L642.2,347.5 L642.5,345.5 L642.5,346.1 L643.5,346.0 L643.6,341.2 L644.4,339.3 L644.0,334.9 L644.6,335.6 L645.0,333.6 L645.4,334.1 L645.5,335.2 L646.3,334.5 L646.5,336.8 L646.4,340.7 L647.3,342.8 L647.2,342.6 L647.5,338.6 L648.2,335.4 L648.5,334.9 L648.9,337.2 L649.2,337.3 L649.5,343.2 L650.3,344.6 L650.1,347.9 L650.9,346.5 L651.0,353.9 L651.2,350.1 L651.8,350.4 L652.1,348.2 L652.4,350.5 L653.3,348.0 L653.4,351.1 L653.8,349.9 L653.8,357.1 L654.1,353.9 L654.6,353.4 L654.8,356.6 L654.6,361.6 L655.0,362.8 L654.9,364.8 L655.1,364.5 L655.4,360.2 L656.1,357.1 L656.4,353.7 L656.2,354.4 L656.7,348.0 L656.8,348.9 L657.5,348.8 L657.7,355.1 L657.8,356.5 L658.5,359.1 L659.0,358.4 L659.1,360.0 L659.3,358.6 L659.9,356.5 L659.9,352.7 L660.7,351.0 L660.4,348.8 L660.9,347.0 L661.3,346.8 L661.7,344.5 L661.9,343.1 L662.7,341.2 L663.1,338.2 L663.3,341.3 L663.6,344.3 L664.1,346.6 L664.2,346.2 L664.8,348.3 L664.6,353.2 L665.2,353.9 L665.4,353.3 L665.8,354.9 L666.1,350.9 L666.4,349.4 L667.2,350.6 L667.6,352.3 L667.6,350.2 L668.4,354.2 L669.0,356.5 L669.2,359.9 L669.2,358.1 L669.8,360.1 L670.4,358.5 L670.5,358.5 L671.1,359.1 L671.9,357.1 L672.1,360.3 L672.1,356.2 L672.7,357.7 L673.5,354.7 L673.3,358.3 L673.8,357.3 L673.5,363.6 L674.1,365.9 L673.7,368.9 L674.7,364.9 L675.1,366.0 L675.2,362.7 L675.9,366.0 L676.2,361.4 L676.8,361.8 L677.1,361.6 L677.7,363.8 L677.5,364.1 L678.2,369.2 L678.4,369.8 L679.2,370.0 L679.6,371.3 L679.8,369.1 L679.9,366.4 L680.8,363.2 L680.8,366.0 L681.2,363.8 L681.8,362.4 L682.3,365.0 L682.4,366.6 L683.1,364.0 L683.8,368.5 L684.1,366.2 L684.0,367.2 L684.4,370.8 L685.2,367.7 L685.2,366.9 L685.9,366.0 L686.2,364.8 L686.7,363.9 L687.3,365.6 L687.2,365.1 L687.8,366.2 L688.7,369.9 L688.6,370.1 L689.3,371.4 L689.6,371.1 L690.0,366.2 L690.1,368.9 L689.9,363.2 L690.4,363.4 L690.6,363.1 L690.3,358.5 L690.4,362.1 L690.7,362.9 L691.2,363.9 L691.1,364.2 L691.3,368.1 L691.6,370.8 L692.0,373.5 L692.1,375.7 L692.6,376.3 L692.7,372.7 L693.4,371.8 L693.7,369.6 L694.4,372.5 L694.7,371.6 L695.3,368.5 L695.4,369.5 L695.6,369.6 L696.2,372.3 L696.8,373.7 L697.2,376.2 L697.6,372.1 L697.7,371.2 L698.3,375.2 L698.4,371.4 L699.0,370.9 L699.4,368.3 L699.6,371.4 L700.2,368.9 L700.9,371.5 L700.9,374.0 L701.5,375.3 L702.0,374.6 L702.5,376.2 L702.4,370.6 L703.2,368.6 L703.5,367.2 L703.8,365.2 L704.7,364.2 L704.5,364.9 L704.8,364.2 L704.9,369.7 L705.7,370.2 L706.1,375.0 L706.3,375.2 L706.3,376.8 L707.1,373.2 L707.5,374.3 L707.4,373.0 L708.4,372.2 L708.8,369.8 L708.8,366.4 L708.7,368.0 L709.1,364.7 L709.1,360.5 L709.6,358.7 L710.0,356.5 L709.6,357.7 L710.3,352.4 L710.3,354.3 L710.9,350.0 L711.4,353.1 L711.6,351.3 L711.9,353.3 L712.6,353.4 L712.8,352.4 L713.1,350.1 L714.2,349.9 L714.3,351.2 L714.7,350.0 L715.2,346.2 L715.2,345.3 L716.3,343.8 L716.6,340.9 L716.8,340.1 L717.3,338.0 L717.7,335.5 L718.3,333.9 L718.3,332.0 L719.1,330.3 L719.1,330.3 L718.9,328.0 L719.5,322.0 L719.5,319.8 L719.7,318.7 L720.1,316.4 L720.1,311.9 L720.8,316.1 L721.2,313.9 L720.9,318.4 L721.6,318.0 L721.6,324.5 L722.1,320.9 L722.2,323.7 L722.9,325.7 L722.9,329.8 L723.3,327.9 L722.8,329.1 L723.3,323.8 L723.2,321.3 L723.5,319.0 L723.4,316.3 L723.1,316.1 L723.5,314.0 L723.5,313.2 L723.4,307.9 L723.3,302.1 L723.5,305.1 L724.0,300.8 L723.5,298.5 L724.3,304.7 L724.3,304.3 L724.7,301.5 L725.7,307.3 L726.1,307.1 L726.4,309.3 L726.8,307.6 L726.7,304.1 L727.3,307.7 L727.7,298.0 L727.7,298.2 L727.9,299.2 L728.5,301.3 L728.9,304.1 L729.3,309.7 L729.0,310.4 L729.6,310.3 L729.8,311.4 L730.1,313.3 L730.3,319.0 L730.7,314.5 L730.7,311.0 L731.5,309.3 L731.4,312.9 L731.7,302.3 L732.5,306.1 L732.6,303.8 L733.0,307.1 L733.6,306.2 L733.7,313.1 L733.5,314.4 L734.2,315.7 L733.9,316.1 L734.2,317.9 L734.4,318.6 L734.5,321.3 L734.3,326.0 L734.7,326.7 L735.1,324.9 L735.2,318.3 L735.3,319.6 L735.7,319.1 L735.9,321.3 L736.2,317.9 L737.2,319.6 L737.2,321.9 L738.0,317.2 L738.3,322.7 L738.6,324.1 L739.3,327.3 L739.5,327.5 L739.5,326.6 L740.2,328.5 L740.4,326.1 L741.2,322.8 L741.6,324.0 L742.2,329.1 L742.3,327.2 L742.8,330.3 L743.0,327.9 L743.3,330.2 L743.6,336.1 L744.6,336.5 L744.6,333.3 L744.9,331.5 L745.6,326.4 L745.4,325.1 L746.0,325.3 L746.1,320.4 L746.5,324.4 L747.1,326.7 L747.5,328.0 L747.8,328.7 L748.2,332.3 L749.0,331.2 L749.1,325.3 L749.5,327.4 L749.9,323.6 L750.3,321.3 L750.9,318.7 L751.0,318.5 L751.4,315.4 L752.0,317.0 L752.3,316.7 L753.1,314.6 L753.2,314.5 L753.5,312.3 L753.5,306.4 L753.5,308.1 L753.4,305.8 L753.7,303.2 L753.7,296.4 L754.2,301.8 L754.9,304.7 L754.7,308.8 L755.7,304.1 L755.8,310.3 L755.8,309.4 L756.6,311.8 L756.9,315.2 L757.1,317.4 L757.3,322.6 L757.4,321.5 L758.1,321.3 L758.5,321.4 L758.8,321.5 L759.1,320.4 L759.5,320.8 L759.8,323.3 L760.0,322.2 L760.6,325.4 L761.4,323.4 L761.6,326.6 L761.6,325.5 L762.0,327.7 L762.9,330.8 L763.2,326.0 L763.6,329.2 L764.0,326.0 L764.3,323.8 L765.0,324.3 L765.4,321.6 L765.5,316.4 L766.0,318.2 L766.5,324.5 L767.2,322.2 L767.5,329.8 L767.9,323.3 L768.3,322.1 L768.5,317.6 L768.6,321.4 L769.0,319.1 L769.9,322.5 L770.1,323.0 L770.6,324.0 L770.9,326.6 L771.5,327.9 L772.0,333.4 L771.9,333.2 L772.7,331.5 L773.0,330.3 L773.3,326.5 L773.6,326.0 L773.7,325.1 L774.1,323.2 L774.8,318.9 L774.7,316.5 L775.3,318.4 L775.5,314.5 L775.8,319.2 L776.3,320.8 L776.4,323.7 L776.9,328.7 L777.1,328.7 L777.4,328.1 L778.0,327.1 L778.1,328.7 L779.0,324.9 L779.0,329.6 L779.2,331.1 L779.5,332.4 L779.6,331.9 L780.0,334.2 L779.9,338.2 L780.5,343.6 L780.2,335.6 L781.0,343.0 L781.1,341.8 L781.8,337.6 L782.4,334.7 L782.5,336.4 L782.5,337.3 L782.5,340.8 L782.7,343.6 L782.8,345.0 L783.3,345.0 L783.4,348.2 L783.8,350.4 L782.9,351.0 L782.9,350.3 L782.4,348.2 L781.7,346.1 L781.4,345.2 L781.8,347.3 L782.6,349.7 L782.9,349.0 L783.0,354.0 L783.7,352.4 L784.2,351.0 L784.7,350.0 L785.2,351.4 L785.0,349.4 L785.9,350.2 L786.4,348.4 L786.6,350.3 L787.1,345.9 L787.2,349.4 L788.1,353.1 L788.3,354.7 L788.8,353.0 L788.9,358.1 L789.1,359.3 L790.0,364.7 L790.0,365.9 L790.9,364.2 L791.1,361.7 L791.2,361.4 L791.7,360.7 L792.5,361.8 L792.7,357.4 L793.1,357.8 L793.3,354.8 L793.8,352.2 L794.0,354.0 L794.3,351.7 L794.8,356.6 L795.5,358.4 L796.0,357.9 L796.6,359.3 L796.5,366.1 L797.1,365.6 L797.6,369.7 L797.3,370.0 L798.2,367.3 L798.2,364.7 L798.7,364.0 L799.4,362.7 L799.3,363.2 L800.2,363.8 L800.3,364.6 L801.1,366.6 L800.9,363.9 L801.6,367.8 L801.7,364.9 L802.0,362.3 L802.7,360.0 L803.0,357.4 L802.9,354.6 L803.3,352.4 L804.1,356.8 L804.1,359.1 L804.9,360.0 L805.5,361.2 L805.7,360.4 L806.0,356.6 L806.2,354.4 L806.2,350.3 L806.5,350.4 L807.2,351.9 L807.5,350.1 L807.9,348.0 L808.6,348.2 L808.5,346.4 L809.0,348.1 L809.9,347.3 L809.4,351.6 L809.6,351.6 L809.5,351.4 L809.3,357.9 L809.5,357.1 L810.2,359.3 L810.6,363.0 L810.7,366.5 L811.2,366.4 L811.5,368.3 L812.0,367.4 L812.8,367.5 L812.8,364.6 L813.5,362.9 L813.5,361.3 L813.9,363.9 L814.1,367.7 L814.9,370.8 L814.8,370.9 L815.1,374.6 L816.0,374.7 L815.8,375.4 L816.3,375.2 L816.9,377.5 L817.1,378.3 L817.6,380.5 L817.8,381.6 L818.6,382.6 L819.0,385.4 L819.4,387.8 L819.7,389.0 L820.1,390.7 L820.4,391.3 L820.6,385.2 L820.5,384.6 L820.5,384.1 L820.7,377.9 L821.1,376.9 L821.3,375.5 L821.3,373.5 L821.0,371.5 L821.3,370.0 L821.6,365.9 L821.8,361.9 L821.9,363.2 L821.9,366.9 L821.6,369.4 L821.8,368.0 L822.3,368.4 L822.4,370.5 L822.3,375.1 L822.6,377.3 L822.5,379.4 L823.0,381.4 L822.6,383.1 L823.1,386.3 L823.4,384.2 L823.4,382.3 L823.9,378.6 L824.5,377.8 L824.8,380.1 L824.9,381.2 L825.1,382.7 L825.0,380.0 L825.8,389.2 L825.5,389.0 L826.2,386.4 L826.4,384.3 L826.8,382.6 L827.1,382.2 L827.8,382.6 L828.2,383.3 L828.5,381.7 L828.8,384.4 L829.0,384.6 L830.1,385.5 L830.2,382.7 L829.8,382.0 L830.5,378.5 L830.6,376.8 L830.9,374.0 L831.0,375.2 L831.9,376.0 L832.0,374.2 L832.1,373.6 L832.7,374.5 L833.1,377.6 L833.3,381.1 L833.6,380.2 L833.7,380.2 L834.1,387.5 L834.7,391.3 L834.6,385.9 L834.8,383.3 L835.3,381.5 L834.9,378.6 L835.1,376.5 L835.4,381.3 L835.6,385.3 L836.2,384.6 L836.1,386.8 L836.8,387.6 L837.2,389.3 L837.9,387.5 L838.3,392.4 L838.2,389.7 L838.5,392.3 L839.5,393.0 L839.6,395.7 L839.8,398.7 L840.1,400.0 L840.6,400.9 L841.4,402.8 L841.5,404.0 L841.8,406.4 L842.7,405.0 L842.7,403.1 L843.3,407.5 L843.5,408.5 L844.1,410.5 L844.8,408.8 L845.0,407.2 L845.3,406.6 L845.9,405.2 L845.8,403.0 L846.5,402.9 L847.1,402.9 L847.7,403.4 L847.7,401.6 L848.5,400.2 L848.9,401.6 L848.8,398.3 L849.6,397.3 L849.7,396.8 L850.5,396.5 L850.5,397.5 L850.7,399.6 L850.9,401.9 L851.1,406.1 L851.5,407.6 L852.2,407.7 L852.2,408.1 L852.8,411.0 L853.4,408.0 L853.5,406.8 L854.2,406.1 L854.3,406.6 L855.1,408.4 L855.5,409.3 L856.2,410.2 L856.3,407.2 L857.0,406.6 L857.4,406.6 L857.8,407.2 L858.3,406.3 L858.6,405.3 L858.9,402.5 L859.4,405.0 L859.8,404.4 L860.1,405.8 L860.4,404.8 L860.8,406.8 L861.5,409.7 L862.0,409.8 L862.7,406.5 L862.7,407.2 L863.0,405.2 L863.7,404.3 L864.2,404.2 L864.4,403.2 L865.1,402.4 L865.3,400.9 L865.6,404.7 L865.9,399.5 L866.6,399.7 L866.7,399.4 L867.3,398.3 L867.4,395.7 L867.9,399.0 L868.8,397.5 L868.7,398.6 L869.4,399.4 L870.0,399.8 L870.4,402.1 L870.8,399.8 L870.9,402.3 L871.7,401.0 L871.6,402.9 L872.5,403.6 L873.1,404.4 L873.1,405.0 L873.5,404.7 L874.4,407.1 L874.6,405.7 L874.9,407.2 L875.5,406.6 L875.9,404.7 L876.4,404.1 L876.4,402.3 L876.6,403.9 L877.2,402.6 L878.0,402.0 L878.3,401.1 L878.8,400.2 L879.1,399.9 L879.5,399.6 L880.0,399.8 L880.4,401.4 L880.9,404.8 L880.9,406.5 L881.5,405.7 L881.5,408.0 L882.2,408.3 L882.7,410.3 L882.7,409.2 L883.2,410.2 L883.9,408.2 L884.6,408.7 L885.0,410.1 L885.0,410.1 L885.6,409.1 L885.9,409.0 L886.4,408.1 L886.4,406.8 L887.2,406.0 L887.5,407.5 L887.9,407.7 L888.4,409.1 L888.7,408.3 L889.4,406.5 L889.8,411.1 L890.0,410.5 L890.4,412.3 L891.0,411.5 L891.2,413.2 L891.6,412.9 L892.2,412.5 L892.9,413.3 L893.1,415.5 L893.7,416.8 L894.1,416.8 L894.6,417.5 L895.2,418.3 L895.3,421.7 L896.0,419.2 L896.1,420.9 L896.5,420.3 L896.9,419.3 L897.6,420.7 L897.9,421.4 L893,495 L0,495 Z" fill="#0090fb" fill-opacity="0.05"/>
<path d="M-0.3,435.1 L0.3,435.3 L0.5,434.3 L1.2,434.9 L1.7,434.6 L2.1,434.0 L2.3,431.3 L2.6,434.6 L3.3,433.3 L3.6,434.2 L4.2,431.9 L4.4,432.7 L5.1,431.9 L5.2,431.8 L5.9,431.2 L6.5,431.1 L6.3,431.6 L6.7,431.8 L7.6,431.0 L7.9,430.7 L8.4,431.0 L8.6,431.3 L9.1,431.8 L9.7,431.8 L9.5,432.0 L10.0,433.1 L10.4,433.1 L11.0,433.5 L11.5,433.9 L12.1,434.0 L12.2,434.9 L13.0,435.6 L12.9,437.4 L13.6,438.8 L13.9,439.9 L14.7,441.2 L14.9,442.3 L15.4,440.2 L15.5,442.3 L16.1,440.8 L16.2,441.1 L16.5,441.1 L17.1,441.3 L17.7,442.4 L18.0,441.2 L18.7,441.3 L18.6,441.6 L19.2,441.0 L19.4,440.9 L20.1,441.9 L20.8,442.6 L21.1,441.5 L21.5,441.0 L21.9,441.2 L22.5,440.3 L22.8,440.4 L23.0,440.2 L23.1,438.8 L23.9,439.5 L24.2,439.0 L24.5,440.0 L24.8,437.9 L25.7,438.1 L25.8,438.1 L26.4,437.0 L26.9,436.4 L27.3,436.9 L27.7,436.9 L28.2,438.5 L28.1,438.6 L28.9,439.3 L29.4,439.9 L29.6,441.0 L29.6,441.1 L30.7,442.7 L31.0,442.9 L31.0,444.0 L31.7,444.5 L32.3,445.6 L32.4,447.0 L33.1,446.7 L33.3,445.3 L33.4,444.1 L33.8,443.9 L34.3,440.3 L34.9,441.3 L35.1,441.5 L35.9,441.5 L36.4,441.2 L36.6,442.0 L36.9,441.7 L37.3,442.4 L38.1,443.3 L38.2,442.7 L38.3,443.9 L38.7,443.0 L39.6,443.4 L39.6,443.6 L40.5,443.2 L40.4,442.6 L41.4,443.6 L41.2,443.0 L41.6,442.5 L42.4,443.2 L42.3,443.5 L43.2,443.0 L43.7,442.6 L43.6,442.7 L44.1,442.6 L44.7,442.6 L44.9,443.1 L45.6,441.8 L45.9,440.7 L46.7,441.6 L47.0,441.1 L47.1,439.5 L47.4,441.0 L48.0,441.7 L48.1,441.1 L48.7,441.1 L49.2,440.5 L49.5,441.4 L50.1,442.3 L50.4,440.7 L50.8,440.8 L51.5,440.4 L52.0,440.0 L52.3,440.7 L52.4,440.2 L52.6,438.8 L53.0,440.2 L54.0,439.8 L54.0,440.0 L54.3,439.7 L55.3,439.5 L55.2,439.9 L55.4,440.1 L56.2,439.5 L56.3,439.1 L56.7,439.2 L57.2,440.0 L57.9,439.1 L58.5,438.9 L58.5,438.0 L59.2,438.8 L59.8,437.5 L59.6,438.6 L60.3,438.9 L60.8,440.2 L61.3,439.4 L61.4,441.1 L62.2,440.4 L62.5,440.4 L62.4,440.9 L63.2,441.6 L63.3,440.9 L63.8,441.7 L64.2,441.7 L64.7,442.1 L65.4,441.1 L65.3,442.6 L65.9,442.2 L66.1,443.0 L67.0,441.9 L67.3,443.2 L67.7,442.7 L68.4,443.9 L68.2,443.9 L68.9,442.4 L69.1,443.2 L69.5,443.3 L70.5,442.8 L70.8,443.4 L70.8,443.4 L71.4,443.9 L71.7,442.3 L72.4,442.7 L72.9,443.0 L73.3,441.2 L73.3,440.1 L73.7,436.8 L74.1,438.1 L74.5,436.4 L74.6,434.0 L74.8,431.7 L75.3,430.2 L75.5,427.8 L75.7,427.1 L76.1,429.1 L76.2,429.1 L76.7,430.4 L77.0,430.1 L77.7,429.9 L78.0,428.8 L78.2,430.5 L78.8,431.7 L79.1,432.3 L79.4,433.8 L79.8,433.6 L80.5,434.0 L80.8,434.6 L81.1,433.5 L82.0,434.1 L82.1,434.6 L82.3,433.9 L82.8,434.0 L83.5,433.7 L83.8,436.4 L83.8,436.0 L84.8,435.4 L84.7,436.3 L85.1,435.2 L85.9,435.3 L86.3,436.0 L86.4,434.3 L87.1,436.5 L87.5,436.4 L87.5,436.8 L88.1,437.3 L88.7,437.1 L89.3,437.3 L89.7,437.0 L90.2,436.5 L90.1,436.9 L90.6,437.5 L91.2,437.1 L91.4,438.3 L91.7,436.8 L92.1,437.2 L92.6,436.1 L93.3,437.2 L93.9,437.1 L93.9,437.3 L94.7,437.9 L95.1,438.4 L94.9,438.8 L95.9,439.1 L96.3,439.1 L96.7,439.5 L96.5,439.2 L97.1,439.3 L97.3,439.4 L97.8,439.9 L98.3,440.7 L98.8,440.1 L99.2,440.5 L100.0,441.6 L100.3,442.5 L100.8,442.7 L101.1,442.1 L101.7,442.9 L101.6,442.7 L101.8,443.1 L102.9,443.2 L103.0,444.0 L103.7,443.3 L103.8,443.7 L104.0,444.0 L104.8,443.9 L104.9,442.8 L105.1,443.0 L106.0,443.4 L106.1,444.0 L106.9,442.8 L106.8,442.9 L107.6,442.3 L108.0,441.8 L108.5,442.0 L109.0,442.4 L109.2,441.5 L109.4,441.5 L109.7,442.6 L110.3,442.7 L110.8,441.9 L111.5,442.4 L111.6,443.2 L111.7,442.9 L112.1,441.7 L113.1,443.0 L113.5,443.8 L114.0,442.0 L114.1,441.9 L114.2,441.2 L114.7,440.8 L114.9,440.1 L115.8,439.8 L116.3,441.0 L116.2,441.8 L117.0,442.4 L117.1,442.9 L117.6,443.0 L118.0,443.2 L118.8,443.8 L118.9,444.6 L119.0,445.6 L119.7,446.7 L120.2,446.7 L120.3,446.6 L120.7,446.8 L121.3,447.7 L121.9,448.2 L122.0,448.9 L122.5,448.7 L123.4,450.0 L123.4,448.7 L124.0,448.8 L124.1,448.3 L125.0,447.4 L125.1,447.8 L125.5,447.5 L126.2,448.0 L126.5,447.1 L126.8,448.8 L127.3,448.3 L127.5,447.9 L128.0,448.5 L128.4,448.2 L129.0,448.3 L129.2,448.4 L129.4,448.0 L130.1,448.3 L130.2,447.6 L130.6,448.6 L131.2,448.0 L132.0,448.9 L132.3,448.8 L132.8,449.3 L132.7,450.1 L133.5,448.5 L134.0,448.2 L134.2,449.0 L134.4,450.0 L134.7,449.7 L135.1,450.6 L135.6,451.1 L135.9,450.7 L136.9,450.7 L137.1,451.5 L137.5,452.2 L138.1,452.4 L138.2,452.5 L138.6,453.9 L138.9,452.2 L139.8,453.7 L139.5,452.8 L140.4,453.7 L140.5,453.0 L141.2,453.7 L141.3,453.8 L141.8,453.9 L142.4,453.6 L142.5,453.9 L142.9,454.6 L143.8,454.5 L143.7,454.8 L144.5,454.6 L145.1,454.8 L145.1,455.8 L145.6,455.7 L145.7,455.7 L146.8,456.2 L146.7,456.5 L147.5,456.6 L147.6,457.1 L148.3,457.7 L148.2,458.2 L149.1,457.7 L149.1,456.1 L149.9,455.2 L150.4,455.1 L150.5,454.1 L151.0,453.0 L151.1,452.3 L151.4,451.9 L152.4,450.4 L152.3,449.6 L153.2,450.4 L153.4,450.7 L153.9,451.1 L154.4,451.5 L154.4,451.4 L155.0,451.9 L155.0,452.1 L156.0,451.4 L156.3,451.0 L156.7,450.3 L156.9,449.7 L157.6,449.1 L158.1,450.1 L157.9,450.5 L158.8,452.4 L159.3,452.1 L159.2,452.4 L159.6,453.0 L160.1,453.5 L160.6,453.1 L161.3,452.1 L161.2,453.1 L161.8,451.7 L162.3,451.9 L162.9,451.6 L162.8,452.0 L163.2,451.2 L163.9,451.3 L164.3,450.5 L164.6,449.9 L165.3,450.5 L165.3,450.3 L166.1,450.4 L166.5,450.5 L167.1,450.5 L167.5,451.2 L167.9,451.3 L168.0,451.2 L168.5,451.5 L169.0,451.2 L169.0,451.3 L169.8,451.4 L170.3,451.7 L170.3,451.6 L170.7,451.1 L171.5,452.1 L171.6,452.2 L172.2,451.9 L172.9,452.3 L172.7,452.6 L173.7,452.5 L174.0,452.4 L173.9,452.2 L174.5,452.6 L175.2,453.0 L175.5,452.8 L175.8,452.5 L176.5,452.8 L176.6,452.4 L177.2,453.1 L177.7,453.5 L178.0,452.7 L178.0,452.8 L178.9,453.3 L179.1,453.1 L179.6,452.8 L179.7,452.9 L180.6,453.7 L180.4,453.2 L180.9,453.9 L181.3,453.9 L182.0,452.9 L182.6,453.6 L182.8,453.4 L183.2,454.1 L183.4,453.9 L184.0,453.7 L184.4,455.0 L184.7,454.0 L185.6,453.7 L185.6,453.8 L185.8,454.0 L186.5,454.1 L186.7,453.3 L187.6,454.2 L187.7,453.9 L188.4,453.8 L188.8,454.3 L188.9,453.9 L189.0,454.2 L189.7,453.8 L190.2,453.4 L190.9,453.3 L190.7,453.2 L191.2,454.0 L191.9,452.9 L192.4,453.5 L192.4,453.5 L193.0,453.6 L193.8,453.7 L194.0,453.5 L194.4,453.1 L194.5,454.0 L195.1,453.2 L195.6,453.7 L195.8,453.5 L196.1,453.4 L196.8,454.5 L197.2,454.6 L197.7,454.1 L198.3,454.6 L198.5,454.2 L198.9,454.5 L199.1,454.6 L199.9,455.2 L200.1,455.8 L200.4,454.5 L201.1,455.6 L201.3,455.1 L201.5,455.2 L201.9,455.0 L202.8,454.4 L202.8,454.2 L203.4,454.0 L204.0,453.0 L203.8,453.9 L204.9,454.3 L205.1,454.4 L205.5,454.5 L205.9,453.4 L206.3,454.0 L206.8,454.6 L207.3,454.6 L207.3,455.9 L207.7,456.5 L208.2,456.1 L209.0,456.8 L208.8,456.9 L209.8,457.8 L209.6,457.6 L210.6,456.7 L210.7,457.1 L210.9,457.2 L211.7,457.5 L212.2,457.2 L212.0,457.1 L212.6,456.2 L213.3,454.8 L213.7,456.3 L214.0,455.4 L214.6,456.1 L214.9,456.4 L215.4,456.1 L215.9,456.0 L216.1,456.0 L216.6,456.2 L217.0,456.7 L217.2,456.9 L217.9,456.0 L218.0,456.9 L218.7,457.5 L219.0,457.1 L219.2,457.6 L220.0,457.1 L220.4,457.0 L220.4,458.0 L221.0,458.3 L221.7,458.3 L222.1,459.1 L222.0,459.0 L222.9,459.4 L222.7,458.8 L223.6,458.9 L223.7,459.6 L224.1,458.9 L224.8,458.5 L225.3,458.5 L225.3,457.5 L225.9,456.7 L226.4,456.5 L226.9,456.5 L227.2,456.2 L227.2,455.2 L227.9,455.3 L228.1,455.6 L228.7,455.7 L229.4,456.6 L229.6,455.7 L230.3,455.8 L230.6,456.6 L230.6,455.8 L230.9,456.3 L232.0,455.8 L231.7,456.3 L232.8,456.5 L232.9,456.8 L233.2,456.6 L233.5,456.7 L233.8,458.6 L234.4,457.7 L234.6,458.6 L235.5,457.9 L235.9,456.9 L236.3,457.2 L236.3,457.8 L236.8,458.3 L237.2,458.2 L237.9,458.1 L237.9,458.3 L238.4,457.7 L238.8,458.2 L239.2,457.2 L239.8,458.1 L240.5,457.3 L240.5,457.1 L241.1,456.8 L241.4,458.2 L241.7,458.4 L242.3,458.1 L243.0,457.7 L243.2,457.7 L243.5,458.8 L243.9,458.2 L244.7,458.5 L245.0,457.7 L245.0,455.9 L245.5,456.2 L245.7,455.5 L246.4,455.0 L246.6,453.8 L247.4,453.2 L247.4,452.6 L248.0,452.1 L248.3,451.4 L248.9,450.1 L249.0,449.4 L249.4,449.1 L250.0,448.0 L250.2,448.4 L250.9,446.9 L251.6,447.4 L251.5,446.5 L252.1,446.9 L252.3,446.3 L252.8,445.4 L253.3,444.3 L254.1,444.2 L254.2,443.3 L254.4,443.4 L254.7,441.7 L255.6,441.8 L255.5,441.1 L256.4,438.9 L256.9,438.1 L257.1,437.7 L257.3,436.8 L258.0,436.5 L258.1,435.7 L258.9,433.7 L259.1,433.2 L259.5,433.1 L260.1,434.8 L260.3,434.6 L261.0,435.5 L260.9,436.4 L261.9,435.5 L262.1,435.3 L262.4,433.8 L262.5,433.5 L263.6,432.3 L263.9,431.3 L264.3,428.7 L264.6,428.6 L264.9,426.0 L265.3,424.3 L266.0,421.0 L265.8,418.9 L266.8,417.4 L266.9,414.1 L267.1,412.2 L267.6,411.5 L267.9,410.4 L268.6,407.3 L268.8,406.8 L269.5,406.3 L269.7,404.9 L270.1,405.0 L270.3,404.8 L271.1,402.5 L271.3,403.9 L271.6,402.6 L272.2,398.5 L272.8,400.8 L272.9,399.5 L272.5,401.2 L272.3,400.2 L271.8,399.8 L271.5,400.4 L271.8,399.3 L271.8,396.1 L272.4,394.7 L273.1,392.4 L273.4,389.3 L273.4,387.4 L273.6,384.5 L273.9,383.7 L274.2,380.6 L273.9,379.7 L274.1,377.3 L273.8,375.7 L274.4,373.5 L274.0,370.0 L274.3,367.7 L274.7,367.0 L274.4,364.2 L274.6,360.1 L274.4,358.4 L274.7,358.0 L274.6,359.1 L274.8,361.7 L274.8,366.5 L275.3,364.5 L274.8,367.7 L275.4,372.1 L275.4,374.0 L275.4,374.4 L275.0,380.0 L275.4,380.2 L275.5,381.7 L275.4,380.0 L275.9,377.0 L275.9,375.6 L276.0,374.2 L275.8,371.1 L276.2,367.2 L276.6,366.2 L276.1,362.9 L276.2,361.1 L276.8,360.1 L276.9,362.3 L276.7,364.2 L276.8,366.3 L277.3,368.9 L277.0,371.6 L277.2,368.7 L277.2,375.5 L277.6,373.7 L277.7,379.1 L277.9,382.2 L278.0,379.0 L277.6,377.7 L278.2,376.7 L277.8,371.5 L277.9,371.3 L278.0,370.2 L278.3,367.0 L278.7,364.6 L278.4,363.1 L278.4,361.1 L278.7,363.8 L278.8,366.1 L278.8,368.7 L278.9,367.2 L279.4,371.8 L279.7,371.4 L279.3,377.3 L279.5,377.2 L279.8,379.9 L279.7,381.3 L279.7,380.3 L280.3,376.3 L280.4,375.3 L280.2,372.5 L280.8,370.8 L280.8,368.4 L280.9,368.7 L280.8,365.1 L281.3,363.4 L281.5,365.0 L281.7,368.7 L281.7,373.5 L281.6,372.8 L282.1,373.4 L282.0,375.0 L282.2,378.9 L281.9,381.6 L282.2,384.0 L282.2,381.4 L282.9,378.4 L282.9,378.2 L282.8,374.7 L283.3,376.8 L283.3,370.3 L283.1,366.1 L283.7,366.1 L283.8,362.8 L283.6,364.1 L284.1,369.1 L284.1,367.9 L284.1,373.3 L284.1,374.3 L284.5,376.8 L284.5,377.4 L284.4,382.5 L284.3,384.8 L284.5,383.2 L284.8,387.8 L284.6,390.6 L285.2,387.8 L284.9,386.8 L285.0,384.0 L285.3,381.0 L285.5,379.2 L285.7,376.4 L285.5,375.2 L285.4,372.4 L285.8,370.5 L285.9,369.4 L285.8,365.4 L286.5,372.4 L286.7,372.6 L286.9,374.2 L286.8,374.8 L287.5,377.8 L287.4,373.6 L287.4,371.2 L287.6,372.9 L288.0,369.6 L288.2,368.5 L288.3,362.6 L288.1,362.0 L288.4,361.1 L288.1,356.7 L288.7,357.9 L289.3,358.4 L289.4,356.8 L289.5,360.2 L290.0,361.9 L290.0,355.5 L290.3,357.3 L290.9,354.2 L290.8,351.7 L291.0,349.1 L291.1,349.3 L291.1,343.8 L291.5,340.1 L291.4,338.9 L291.8,337.4 L292.5,339.3 L292.5,333.6 L292.8,331.9 L293.0,329.1 L292.6,329.0 L292.8,324.4 L292.3,323.5 L292.2,320.3 L291.9,316.0 L292.1,317.0 L292.5,314.3 L293.0,311.9 L292.9,308.9 L293.4,307.4 L293.7,304.8 L293.7,304.8 L294.6,299.5 L294.9,299.9 L295.3,299.2 L295.8,297.8 L296.0,297.3 L296.1,298.6 L296.7,297.8 L297.0,301.3 L297.9,295.8 L297.8,301.9 L297.2,297.5 L297.3,301.4 L297.0,305.8 L297.4,305.1 L296.9,308.3 L297.3,311.8 L296.8,317.9 L296.9,320.0 L296.5,320.8 L297.0,319.7 L297.2,320.0 L297.1,319.2 L297.8,316.6 L297.5,311.1 L298.4,309.6 L298.1,309.0 L298.6,307.5 L298.7,307.2 L299.3,302.9 L299.4,302.0 L299.5,306.2 L300.0,311.6 L300.2,307.5 L300.5,316.3 L300.6,315.7 L301.2,316.3 L301.1,318.0 L301.4,321.7 L301.8,332.1 L302.0,324.0 L301.8,325.4 L302.4,327.4 L302.5,333.7 L302.5,333.1 L302.7,330.5 L302.9,324.8 L303.2,329.0 L303.5,325.0 L303.8,322.8 L304.2,320.7 L304.1,318.9 L304.3,325.8 L304.4,328.6 L304.2,328.8 L304.7,327.2 L304.9,330.9 L304.5,337.2 L304.4,338.9 L304.6,340.9 L304.7,343.5 L304.8,342.3 L305.5,340.3 L305.7,339.5 L305.4,337.5 L306.0,336.4 L305.9,335.5 L306.3,330.3 L306.5,331.5 L306.7,329.2 L307.0,334.4 L307.2,340.4 L307.0,339.8 L307.2,338.6 L307.3,340.8 L307.7,344.6 L308.0,346.3 L308.0,347.2 L308.1,350.5 L308.5,352.3 L309.4,352.2 L309.8,354.8 L309.6,357.7 L310.2,356.7 L310.5,359.8 L310.8,362.9 L311.6,361.2 L311.7,364.0 L312.5,366.7 L312.6,369.2 L313.2,365.7 L313.5,367.3 L314.1,369.3 L314.1,370.8 L314.2,375.6 L315.1,375.5 L314.9,373.6 L315.2,371.9 L315.8,370.6 L315.7,366.9 L315.9,364.4 L316.6,364.5 L316.7,363.5 L317.0,366.7 L317.8,370.9 L317.9,370.7 L318.2,370.1 L318.7,368.0 L318.4,362.8 L318.4,363.3 L318.6,360.8 L319.1,358.3 L319.0,355.5 L319.6,355.6 L319.6,353.2 L319.4,349.0 L319.5,346.5 L320.2,353.5 L320.1,352.4 L320.4,354.8 L320.6,357.2 L320.6,357.7 L320.6,360.5 L321.1,363.5 L321.1,368.1 L321.7,364.5 L322.1,369.6 L322.6,373.1 L323.2,373.7 L323.2,373.7 L323.4,369.2 L323.6,368.3 L324.2,365.0 L323.9,364.7 L324.2,361.1 L324.7,358.9 L325.0,357.6 L325.2,360.5 L325.4,361.0 L326.1,362.1 L326.4,363.7 L326.9,366.3 L327.3,367.2 L327.7,365.3 L328.0,366.7 L328.2,364.5 L328.8,364.3 L329.0,363.7 L329.9,361.9 L330.2,361.1 L330.2,361.7 L330.8,360.6 L331.1,356.5 L331.2,356.8 L331.0,353.9 L331.6,351.3 L331.6,349.7 L332.0,348.2 L332.0,345.6 L332.4,347.6 L332.5,346.6 L332.7,350.8 L333.0,356.7 L333.1,355.9 L333.3,357.5 L333.9,359.4 L334.0,356.3 L334.0,354.8 L334.6,350.1 L335.1,349.1 L335.2,345.9 L335.4,347.9 L336.0,352.8 L335.7,352.8 L336.2,357.7 L336.7,357.4 L336.7,363.8 L337.0,361.0 L337.2,361.6 L337.6,357.7 L337.6,357.0 L338.1,357.0 L337.9,353.6 L338.2,351.0 L338.9,349.3 L339.1,346.2 L338.9,344.3 L339.8,341.8 L340.0,343.0 L339.6,347.3 L340.1,349.8 L340.8,350.8 L340.8,354.1 L341.3,354.8 L341.6,357.3 L341.5,356.2 L341.9,362.2 L341.8,358.1 L342.2,356.1 L342.2,355.6 L342.3,352.8 L342.7,349.8 L342.8,350.4 L343.1,342.6 L343.1,340.8 L343.2,344.1 L343.6,340.1 L343.5,334.1 L343.4,333.1 L344.2,337.1 L343.9,341.4 L344.5,343.1 L344.7,344.4 L344.9,346.7 L345.2,341.5 L345.9,341.1 L346.2,337.4 L346.7,338.2 L347.0,337.3 L347.3,339.9 L347.7,335.1 L348.0,337.1 L348.2,337.2 L349.0,334.3 L348.8,330.9 L348.9,328.9 L348.8,328.7 L349.2,321.7 L349.1,322.8 L349.3,320.0 L349.3,322.0 L350.1,312.6 L349.6,310.7 L350.3,310.3 L350.7,315.5 L350.6,316.1 L351.5,319.1 L351.5,323.1 L351.6,317.1 L352.0,314.5 L351.8,312.9 L352.4,313.1 L352.0,309.0 L352.3,310.4 L352.1,307.5 L352.5,301.8 L352.4,300.6 L352.6,301.7 L353.1,305.7 L353.3,307.7 L353.6,309.5 L353.6,311.4 L353.7,313.0 L354.6,314.7 L354.6,320.0 L354.9,321.5 L355.1,322.6 L355.2,321.9 L355.1,318.9 L354.9,317.4 L355.3,312.6 L355.6,311.3 L355.3,310.2 L355.4,307.0 L356.0,306.2 L355.8,306.7 L356.1,301.1 L356.3,301.2 L356.9,298.7 L356.8,304.3 L357.6,304.2 L358.0,300.3 L358.1,297.0 L358.1,297.6 L358.5,290.8 L358.5,292.5 L358.4,288.4 L359.2,290.8 L358.9,284.9 L359.8,282.2 L360.1,282.3 L360.5,277.8 L361.0,280.8 L361.0,276.4 L360.8,275.3 L360.3,279.2 L360.8,267.9 L360.4,266.1 L360.4,267.8 L360.5,266.2 L361.1,260.3 L361.0,257.3 L361.1,258.8 L362.0,256.6 L361.7,252.7 L362.1,253.6 L362.8,247.9 L363.0,241.1 L363.1,244.2 L363.3,244.0 L363.5,240.8 L364.2,238.0 L364.2,237.0 L364.0,242.4 L364.3,239.3 L364.5,244.6 L364.4,244.8 L364.3,245.4 L364.1,245.5 L364.4,252.9 L364.8,251.5 L364.3,251.5 L364.8,255.0 L364.3,261.9 L364.8,265.1 L364.7,259.8 L365.1,257.1 L365.5,258.9 L365.9,253.9 L365.6,251.0 L366.3,246.5 L366.3,247.5 L366.3,243.4 L366.5,242.6 L367.0,239.5 L367.2,247.7 L367.4,244.3 L367.7,246.0 L368.1,250.9 L368.7,252.9 L368.9,253.1 L368.7,253.0 L369.2,254.6 L369.2,252.2 L369.9,251.7 L369.6,249.1 L369.7,248.2 L370.5,247.7 L370.2,242.2 L370.7,244.2 L371.0,241.3 L371.3,239.3 L371.3,236.9 L371.5,233.8 L371.4,229.2 L371.9,229.3 L371.9,225.0 L371.9,222.1 L372.2,213.9 L372.3,221.3 L372.3,215.4 L372.4,217.2 L373.0,210.4 L373.1,206.5 L373.2,208.5 L373.3,207.6 L373.1,204.1 L373.2,205.1 L373.3,201.9 L373.9,201.1 L373.8,198.2 L373.3,197.7 L373.4,193.9 L373.7,189.8 L373.3,188.2 L373.7,185.8 L373.5,182.2 L373.4,179.5 L374.0,178.0 L373.5,176.0 L373.9,174.2 L374.2,174.8 L374.2,171.4 L374.7,166.8 L374.8,164.9 L374.6,160.7 L374.7,166.2 L374.8,158.4 L375.0,154.1 L375.2,154.3 L375.1,153.9 L375.5,150.3 L376.0,147.1 L375.9,146.0 L375.7,143.4 L376.3,150.0 L376.2,152.7 L376.9,153.8 L376.4,157.5 L377.1,159.7 L377.1,159.3 L377.7,157.4 L378.4,156.0 L378.3,154.7 L378.7,154.2 L378.3,157.0 L378.9,160.6 L378.9,168.3 L379.1,164.0 L379.0,171.7 L378.6,169.0 L378.7,173.7 L379.1,171.5 L379.4,178.0 L379.3,179.8 L379.1,181.7 L379.3,185.0 L379.4,186.8 L379.5,189.1 L379.2,185.3 L379.7,183.9 L380.0,180.1 L380.1,176.5 L380.0,179.8 L380.8,178.8 L380.8,173.7 L381.0,172.9 L381.2,169.8 L381.0,163.8 L381.6,165.8 L381.8,161.9 L381.4,165.3 L382.0,159.2 L381.9,161.7 L382.2,165.8 L382.1,173.8 L382.1,164.1 L381.9,166.5 L382.1,164.2 L382.0,172.6 L382.6,175.3 L382.3,176.3 L382.3,179.6 L382.3,184.1 L382.9,183.6 L382.9,182.5 L383.2,179.5 L383.6,174.0 L384.0,172.8 L384.7,173.6 L385.2,170.5 L385.6,172.4 L385.8,173.5 L386.0,179.0 L386.3,181.1 L386.4,185.7 L386.3,190.4 L386.7,187.4 L387.0,191.4 L387.5,195.4 L387.2,193.2 L387.9,200.0 L387.8,200.8 L388.5,201.8 L388.3,200.2 L388.8,206.4 L389.0,206.6 L388.4,211.4 L388.1,214.7 L387.6,217.5 L387.4,215.5 L388.2,218.6 L388.2,220.0 L389.0,219.0 L389.1,224.4 L389.4,221.5 L390.2,219.8 L390.3,215.7 L390.4,212.9 L390.6,217.6 L391.0,211.3 L391.4,211.9 L391.1,206.5 L391.5,204.0 L391.4,204.5 L391.5,202.3 L391.8,197.8 L392.0,198.4 L392.5,195.0 L392.4,193.2 L392.1,192.3 L392.5,192.4 L392.2,189.0 L392.2,183.8 L392.4,181.1 L392.3,178.5 L392.6,175.3 L392.5,175.2 L392.9,172.9 L392.7,169.9 L392.9,168.6 L393.1,156.2 L392.6,163.1 L393.2,159.6 L392.8,158.5 L393.1,154.8 L392.9,153.7 L393.3,150.0 L393.1,150.7 L393.5,147.1 L392.8,142.4 L392.7,144.8 L392.7,140.1 L392.7,139.9 L392.3,137.4 L393.0,132.8 L393.0,132.7 L393.2,132.6 L393.9,128.2 L394.2,128.4 L394.5,124.7 L395.1,121.5 L395.5,121.4 L395.5,124.0 L396.2,121.2 L396.2,122.8 L396.7,121.5 L397.1,125.2 L396.9,129.5 L396.6,133.6 L396.9,131.5 L396.3,126.7 L396.2,134.6 L396.6,139.3 L396.6,135.0 L396.7,134.9 L396.9,132.4 L397.6,126.8 L397.6,124.3 L397.9,123.0 L398.6,123.2 L398.7,120.6 L399.4,120.6 L399.9,120.6 L399.8,127.2 L400.1,121.0 L400.7,127.3 L401.3,127.1 L401.6,125.1 L401.3,126.4 L401.7,127.9 L401.5,133.5 L402.1,130.7 L402.1,133.3 L402.6,134.3 L403.2,132.2 L403.3,136.5 L403.6,142.0 L403.8,138.1 L403.7,145.3 L404.4,150.3 L404.6,148.7 L404.9,150.3 L404.9,147.0 L405.4,151.4 L406.0,149.9 L406.2,150.9 L406.8,146.7 L407.3,148.6 L407.6,158.3 L408.6,155.7 L408.9,155.3 L409.6,152.1 L408.8,157.3 L409.3,162.1 L409.4,163.8 L410.1,165.0 L410.4,168.8 L410.4,172.3 L411.3,172.0 L411.1,166.2 L411.7,172.2 L412.0,178.0 L412.2,174.8 L412.9,171.9 L412.9,169.0 L413.1,170.4 L413.7,163.8 L414.0,161.5 L413.6,160.5 L413.6,161.5 L413.7,155.1 L414.0,150.0 L413.9,150.0 L413.9,148.6 L413.9,147.0 L413.9,150.7 L414.6,151.3 L415.0,152.2 L415.4,156.8 L415.4,157.4 L416.1,160.7 L416.5,165.9 L416.1,160.0 L416.3,159.7 L417.0,158.4 L416.7,154.7 L416.9,152.0 L417.2,150.4 L416.8,143.9 L417.5,147.0 L417.8,148.7 L418.5,152.7 L419.1,151.1 L419.3,149.6 L419.4,153.8 L419.9,150.0 L419.6,158.2 L419.9,155.2 L419.5,160.2 L419.5,163.2 L419.6,164.3 L419.7,170.5 L419.8,166.0 L420.0,170.4 L420.5,173.0 L420.0,176.6 L420.2,177.8 L420.4,175.8 L420.5,181.2 L420.2,186.4 L420.7,186.4 L421.1,186.1 L421.9,181.1 L421.8,188.6 L422.4,188.9 L423.1,188.0 L423.0,191.7 L423.4,194.2 L423.0,194.8 L423.2,202.2 L423.2,200.3 L423.4,204.9 L423.4,203.1 L423.9,204.6 L423.6,213.0 L423.3,212.4 L422.9,211.7 L423.3,218.9 L423.6,216.7 L423.9,223.7 L423.5,223.0 L424.1,221.9 L424.5,224.9 L424.3,229.3 L424.7,230.3 L424.9,239.8 L425.2,236.1 L425.7,237.8 L426.1,241.1 L426.3,237.0 L426.9,245.8 L426.7,244.0 L427.4,240.8 L428.1,240.4 L428.1,240.2 L428.8,238.3 L429.0,245.8 L429.4,239.9 L430.0,241.0 L430.1,242.3 L430.9,242.9 L431.0,241.4 L431.3,244.5 L431.8,251.2 L432.0,247.1 L431.8,243.5 L432.4,251.0 L432.5,238.7 L432.2,234.6 L432.2,234.3 L432.8,235.6 L432.6,231.7 L432.7,231.3 L432.7,225.8 L433.1,227.4 L433.5,229.8 L434.1,233.0 L434.2,235.2 L434.8,237.1 L435.0,241.6 L435.7,235.5 L435.8,234.9 L436.4,231.9 L436.5,230.7 L437.2,233.6 L438.0,229.0 L437.8,228.6 L438.4,232.1 L438.6,226.2 L438.9,223.7 L439.4,221.6 L440.0,222.5 L439.8,213.6 L440.1,215.9 L440.9,214.1 L440.8,212.2 L441.2,207.6 L441.8,207.5 L442.1,204.4 L442.3,202.1 L442.4,201.6 L442.3,198.6 L441.6,198.5 L441.5,193.7 L441.2,195.2 L440.4,195.9 L440.3,197.7 L440.4,200.3 L440.6,191.5 L441.3,191.1 L441.3,187.6 L441.8,185.1 L441.9,184.6 L442.3,184.8 L442.3,180.7 L442.5,184.8 L442.9,185.8 L443.1,188.3 L443.9,189.7 L444.0,195.4 L444.2,195.5 L444.8,192.1 L445.3,191.5 L445.5,186.8 L445.5,183.2 L446.3,184.1 L446.7,183.0 L447.3,185.3 L447.1,183.4 L447.3,193.2 L447.5,198.4 L447.8,193.6 L448.4,189.8 L448.8,205.6 L449.0,199.5 L449.2,202.5 L449.7,209.7 L449.7,207.5 L449.9,213.6 L449.2,214.5 L449.4,215.5 L449.1,214.9 L449.6,220.0 L449.9,213.2 L450.6,212.0 L451.1,215.4 L451.0,209.5 L451.4,206.7 L452.2,207.3 L452.5,202.0 L452.6,201.2 L453.0,197.8 L453.4,192.4 L453.5,196.1 L454.2,195.5 L454.6,193.0 L455.0,187.6 L455.3,189.2 L455.7,191.6 L455.6,196.0 L455.9,193.1 L456.2,196.4 L456.7,202.3 L457.0,199.2 L457.5,204.6 L457.8,200.9 L457.8,196.9 L458.3,198.1 L459.0,203.4 L459.5,194.6 L459.5,196.2 L459.9,204.1 L460.4,203.1 L461.0,205.5 L461.2,205.1 L461.5,202.6 L461.7,209.3 L461.9,207.8 L462.4,213.7 L462.3,215.1 L463.1,210.9 L463.2,216.8 L463.2,216.4 L463.9,219.3 L464.5,221.8 L464.5,225.9 L465.5,227.6 L465.6,226.9 L465.7,232.1 L465.8,235.9 L466.7,234.2 L466.5,239.8 L467.2,242.3 L467.1,241.1 L467.1,238.1 L467.2,236.1 L467.6,237.6 L468.0,233.4 L468.3,229.4 L468.2,225.8 L468.6,226.8 L468.4,224.3 L468.6,224.2 L468.3,220.3 L468.5,218.2 L469.1,220.4 L470.0,222.4 L470.2,220.5 L470.2,226.6 L470.7,226.6 L471.6,227.4 L471.9,225.6 L472.0,219.8 L472.0,217.2 L472.1,218.3 L472.7,214.3 L473.0,213.1 L473.3,213.5 L473.6,211.6 L474.0,217.9 L474.5,220.5 L474.9,220.3 L475.6,223.3 L475.8,223.7 L475.9,229.1 L476.4,223.4 L476.8,224.5 L477.6,221.5 L477.5,217.6 L478.1,216.2 L478.6,208.4 L478.4,210.8 L478.8,212.2 L479.2,214.5 L479.4,216.8 L479.6,217.3 L479.6,229.1 L479.6,227.1 L479.9,224.5 L480.1,222.9 L480.5,225.3 L481.2,229.2 L481.5,231.6 L481.7,226.5 L482.2,224.5 L483.0,222.8 L482.7,225.8 L483.4,229.3 L483.7,221.5 L483.6,230.5 L483.8,238.0 L484.1,239.0 L484.4,239.8 L485.0,239.8 L485.5,237.8 L485.4,232.1 L485.9,232.9 L486.8,236.0 L487.0,234.7 L487.4,242.3 L487.2,238.0 L487.8,238.7 L488.2,243.5 L488.4,248.5 L489.0,243.8 L489.4,244.7 L489.9,243.4 L490.0,246.2 L490.4,247.2 L491.1,245.8 L491.2,249.3 L491.7,248.3 L492.4,251.3 L492.4,255.7 L493.1,253.2 L493.3,248.0 L493.9,256.5 L494.6,248.4 L494.4,246.5 L495.2,243.0 L495.5,241.4 L496.2,242.5 L496.3,244.0 L497.0,237.8 L497.4,240.1 L497.4,240.1 L496.9,242.4 L496.7,237.4 L496.3,244.1 L495.8,245.2 L495.2,245.0 L496.2,241.8 L496.2,238.6 L496.9,246.2 L497.5,237.3 L497.6,240.7 L497.9,236.1 L498.1,242.6 L498.3,246.5 L498.9,248.7 L499.1,254.1 L499.3,254.8 L499.9,251.3 L500.3,252.4 L500.3,242.9 L501.1,253.8 L501.5,255.8 L501.6,253.3 L501.9,255.9 L502.1,251.6 L502.3,252.1 L502.6,249.2 L503.0,246.1 L502.8,247.5 L502.8,240.6 L503.2,244.6 L503.5,245.6 L504.3,251.6 L504.3,251.3 L504.5,254.8 L505.0,253.0 L504.7,248.4 L504.8,249.1 L504.7,248.2 L504.8,244.2 L504.6,239.2 L505.1,239.8 L505.1,242.0 L505.3,235.7 L505.3,233.9 L505.3,232.4 L505.4,230.6 L505.1,227.9 L505.6,225.9 L505.9,220.9 L506.2,221.6 L506.6,223.1 L507.4,219.1 L507.6,222.3 L508.2,224.5 L508.1,220.8 L508.7,219.6 L509.4,225.2 L509.6,222.0 L509.5,220.0 L509.4,219.9 L509.6,217.1 L509.8,213.9 L510.4,214.2 L510.4,206.4 L510.4,204.9 L510.1,208.1 L511.0,206.5 L511.3,202.9 L511.4,200.3 L511.8,204.3 L512.5,203.8 L512.6,200.1 L512.9,206.8 L512.7,213.3 L513.1,211.3 L513.2,209.7 L513.4,214.6 L513.8,214.5 L513.4,217.1 L513.9,219.6 L514.6,219.5 L514.8,218.0 L514.9,217.1 L515.0,219.8 L515.1,223.9 L515.1,222.9 L514.9,225.9 L514.7,233.1 L514.3,229.6 L514.5,229.2 L514.8,233.7 L515.1,234.1 L515.7,231.5 L516.1,231.4 L516.3,231.8 L517.0,225.7 L517.2,229.5 L517.6,230.0 L517.8,230.1 L518.1,228.5 L517.8,238.6 L518.5,241.7 L518.2,243.5 L518.4,244.7 L518.5,246.4 L519.0,246.0 L518.9,247.4 L519.7,241.1 L519.7,234.2 L520.0,236.0 L520.4,233.5 L520.7,232.4 L520.8,230.1 L521.4,228.0 L521.3,231.0 L521.3,237.3 L521.5,234.4 L522.0,238.4 L522.1,244.9 L522.0,242.5 L522.5,240.8 L523.2,244.4 L523.4,241.3 L523.9,240.6 L524.2,245.2 L524.1,247.7 L523.8,248.1 L523.9,248.8 L524.2,251.4 L524.2,252.1 L525.0,254.4 L525.1,253.5 L525.6,251.4 L525.9,254.6 L526.0,248.7 L527.0,245.4 L527.0,249.7 L527.6,253.7 L527.8,249.8 L528.4,257.8 L528.7,260.7 L529.4,261.4 L529.5,263.4 L529.7,259.8 L530.1,255.6 L530.7,255.3 L531.3,253.9 L531.9,252.1 L532.0,252.7 L531.6,251.7 L532.3,260.6 L531.8,260.4 L532.0,262.3 L532.1,263.0 L532.3,266.1 L532.6,270.6 L532.7,273.0 L533.3,271.6 L533.7,266.1 L534.0,268.4 L534.9,272.5 L535.2,267.9 L535.5,268.1 L535.8,269.4 L536.0,274.9 L536.4,274.9 L537.1,272.1 L537.4,277.7 L538.2,274.1 L538.2,279.1 L538.6,277.2 L538.9,279.5 L539.4,274.4 L539.7,273.2 L539.8,267.5 L540.2,269.7 L540.3,273.5 L540.1,270.2 L540.7,272.9 L540.4,280.2 L540.7,281.7 L540.7,284.5 L541.1,284.3 L541.2,285.1 L541.5,292.6 L541.9,294.3 L542.2,290.1 L542.9,286.7 L543.0,278.9 L543.5,277.6 L544.2,281.1 L544.5,280.2 L544.4,271.9 L544.8,268.2 L545.4,267.2 L545.7,267.0 L546.1,262.7 L546.8,263.3 L547.0,265.3 L547.4,266.8 L547.7,263.7 L548.3,261.8 L548.6,267.4 L548.7,271.2 L548.8,273.5 L549.4,274.2 L549.4,279.1 L549.8,279.3 L549.4,281.7 L550.1,280.2 L550.8,279.7 L550.8,275.4 L551.5,273.1 L551.6,278.1 L551.9,273.0 L552.1,278.8 L553.0,278.4 L553.1,285.7 L553.3,286.3 L553.5,288.4 L554.2,288.8 L554.8,292.2 L555.1,295.8 L555.8,294.6 L556.0,298.8 L556.6,300.3 L556.8,304.7 L557.0,301.2 L557.6,306.2 L558.0,305.4 L558.0,311.5 L558.8,310.3 L559.2,312.2 L559.6,309.8 L559.9,314.4 L559.4,300.5 L559.8,305.4 L560.1,302.6 L560.1,300.5 L560.3,300.4 L560.1,300.4 L560.5,296.4 L560.7,295.7 L560.8,301.7 L561.2,297.9 L561.9,297.2 L561.8,300.2 L562.4,297.1 L562.5,293.1 L563.0,290.9 L563.2,289.7 L562.9,285.6 L563.6,286.8 L563.8,279.6 L564.3,285.2 L564.4,278.3 L565.0,281.8 L565.2,281.0 L566.0,284.3 L566.3,286.9 L566.8,288.6 L566.7,289.8 L567.6,289.0 L567.5,292.1 L567.9,285.8 L568.3,290.0 L568.8,288.9 L568.8,290.5 L568.7,292.8 L569.2,295.6 L568.9,298.2 L569.1,297.5 L569.2,301.1 L569.7,307.2 L570.0,300.9 L569.9,298.1 L570.0,294.0 L570.4,293.7 L571.0,293.5 L570.8,290.3 L570.8,291.5 L571.4,288.2 L571.4,295.9 L571.5,294.6 L572.0,293.5 L572.2,300.5 L572.3,305.1 L572.6,308.0 L572.3,310.5 L572.4,309.5 L572.5,310.8 L573.3,306.6 L573.5,311.2 L574.0,308.2 L574.3,307.0 L574.4,302.8 L575.3,305.0 L575.2,309.7 L575.7,311.6 L575.9,313.9 L576.4,314.3 L576.9,316.7 L577.1,316.3 L577.9,317.4 L578.1,317.9 L578.1,321.7 L578.8,322.3 L579.5,322.0 L579.8,321.6 L579.8,323.3 L580.6,323.3 L580.9,322.2 L581.6,320.9 L581.9,320.5 L582.3,316.1 L582.6,318.9 L583.0,317.0 L583.1,320.0 L583.5,315.2 L584.5,316.8 L584.4,316.6 L584.9,313.4 L585.5,315.8 L586.2,312.5 L585.9,313.2 L586.6,313.3 L587.3,308.3 L587.7,308.1 L587.7,311.1 L588.0,313.7 L588.8,315.6 L589.3,320.4 L589.6,319.5 L589.7,318.6 L590.3,319.0 L590.8,321.1 L591.4,321.1 L591.3,322.3 L592.3,319.8 L592.3,321.6 L592.6,319.6 L593.2,319.0 L592.8,325.2 L593.4,326.4 L592.8,331.5 L593.1,331.4 L593.1,333.1 L593.3,335.9 L593.6,335.9 L593.8,338.6 L593.9,335.3 L594.0,337.9 L594.1,335.4 L594.8,333.4 L594.8,331.2 L594.9,327.0 L595.4,321.4 L595.9,325.8 L595.5,325.9 L596.0,332.7 L596.3,333.8 L596.2,337.0 L597.0,337.3 L596.9,341.2 L597.6,338.8 L597.8,335.6 L598.3,335.2 L598.6,332.9 L599.2,335.0 L599.3,333.1 L599.5,331.8 L600.1,332.5 L600.5,336.3 L600.7,336.0 L601.6,338.7 L602.2,341.3 L602.4,345.9 L602.7,342.5 L603.1,347.6 L603.3,346.1 L603.6,349.7 L604.7,348.4 L605.0,349.5 L605.2,350.5 L605.2,354.4 L605.6,356.6 L606.6,358.3 L606.4,359.6 L606.9,357.3 L607.8,354.5 L607.8,356.0 L608.4,354.8 L608.7,349.6 L609.4,346.9 L609.3,346.3 L609.7,344.7 L610.3,345.7 L610.5,345.5 L610.4,346.8 L610.9,347.5 L611.4,350.9 L611.8,352.1 L611.8,355.7 L612.1,357.9 L612.5,359.7 L612.6,359.9 L613.0,357.8 L613.3,356.1 L613.6,353.5 L614.1,353.3 L614.2,348.0 L614.9,350.9 L615.2,348.6 L616.1,356.3 L615.9,353.4 L616.9,356.9 L617.2,357.5 L617.4,360.1 L618.1,360.4 L618.3,363.5 L618.4,364.4 L618.8,360.0 L619.8,365.0 L620.0,363.7 L620.1,366.0 L620.9,365.3 L621.2,364.4 L621.5,363.7 L621.8,362.8 L622.7,361.1 L622.7,360.3 L623.3,362.1 L623.6,362.7 L623.7,365.2 L624.0,365.1 L624.3,367.2 L624.8,371.2 L624.5,372.4 L624.5,375.0 L625.0,377.5 L625.1,378.2 L625.0,381.9 L625.2,384.2 L625.3,385.3 L625.4,387.7 L625.7,390.5 L625.7,391.5 L626.3,390.4 L626.4,390.5 L626.9,387.6 L627.3,390.5 L627.7,391.3 L628.3,393.8 L628.7,398.5 L628.7,395.6 L629.4,393.4 L629.9,390.3 L629.7,388.5 L630.4,389.8 L630.5,386.0 L630.4,381.4 L631.2,382.1 L631.1,379.9 L631.2,375.9 L631.6,374.1 L632.0,371.5 L632.2,370.0 L632.2,366.6 L632.0,365.6 L632.3,364.7 L632.7,358.6 L632.1,357.8 L632.3,355.5 L632.8,352.8 L632.8,351.8 L632.9,350.0 L633.0,347.6 L632.7,343.7 L632.9,343.8 L633.5,342.5 L633.7,337.0 L634.5,338.6 L634.9,337.8 L634.8,332.2 L635.4,331.2 L635.9,330.1 L636.5,329.6 L636.3,331.2 L636.5,333.3 L636.5,335.8 L636.7,336.6 L637.0,336.2 L637.3,339.4 L637.8,336.2 L637.8,339.0 L638.6,337.0 L639.1,338.3 L639.2,334.8 L639.6,336.5 L640.3,337.2 L640.5,338.4 L640.7,340.4 L640.8,345.3 L640.8,343.9 L641.2,346.3 L640.9,347.5 L641.3,349.2 L641.1,352.5 L641.5,350.6 L642.2,347.5 L642.5,345.5 L642.5,346.1 L643.5,346.0 L643.6,341.2 L644.4,339.3 L644.0,334.9 L644.6,335.6 L645.0,333.6 L645.4,334.1 L645.5,335.2 L646.3,334.5 L646.5,336.8 L646.4,340.7 L647.3,342.8 L647.2,342.6 L647.5,338.6 L648.2,335.4 L648.5,334.9 L648.9,337.2 L649.2,337.3 L649.5,343.2 L650.3,344.6 L650.1,347.9 L650.9,346.5 L651.0,353.9 L651.2,350.1 L651.8,350.4 L652.1,348.2 L652.4,350.5 L653.3,348.0 L653.4,351.1 L653.8,349.9 L653.8,357.1 L654.1,353.9 L654.6,353.4 L654.8,356.6 L654.6,361.6 L655.0,362.8 L654.9,364.8 L655.1,364.5 L655.4,360.2 L656.1,357.1 L656.4,353.7 L656.2,354.4 L656.7,348.0 L656.8,348.9 L657.5,348.8 L657.7,355.1 L657.8,356.5 L658.5,359.1 L659.0,358.4 L659.1,360.0 L659.3,358.6 L659.9,356.5 L659.9,352.7 L660.7,351.0 L660.4,348.8 L660.9,347.0 L661.3,346.8 L661.7,344.5 L661.9,343.1 L662.7,341.2 L663.1,338.2 L663.3,341.3 L663.6,344.3 L664.1,346.6 L664.2,346.2 L664.8,348.3 L664.6,353.2 L665.2,353.9 L665.4,353.3 L665.8,354.9 L666.1,350.9 L666.4,349.4 L667.2,350.6 L667.6,352.3 L667.6,350.2 L668.4,354.2 L669.0,356.5 L669.2,359.9 L669.2,358.1 L669.8,360.1 L670.4,358.5 L670.5,358.5 L671.1,359.1 L671.9,357.1 L672.1,360.3 L672.1,356.2 L672.7,357.7 L673.5,354.7 L673.3,358.3 L673.8,357.3 L673.5,363.6 L674.1,365.9 L673.7,368.9 L674.7,364.9 L675.1,366.0 L675.2,362.7 L675.9,366.0 L676.2,361.4 L676.8,361.8 L677.1,361.6 L677.7,363.8 L677.5,364.1 L678.2,369.2 L678.4,369.8 L679.2,370.0 L679.6,371.3 L679.8,369.1 L679.9,366.4 L680.8,363.2 L680.8,366.0 L681.2,363.8 L681.8,362.4 L682.3,365.0 L682.4,366.6 L683.1,364.0 L683.8,368.5 L684.1,366.2 L684.0,367.2 L684.4,370.8 L685.2,367.7 L685.2,366.9 L685.9,366.0 L686.2,364.8 L686.7,363.9 L687.3,365.6 L687.2,365.1 L687.8,366.2 L688.7,369.9 L688.6,370.1 L689.3,371.4 L689.6,371.1 L690.0,366.2 L690.1,368.9 L689.9,363.2 L690.4,363.4 L690.6,363.1 L690.3,358.5 L690.4,362.1 L690.7,362.9 L691.2,363.9 L691.1,364.2 L691.3,368.1 L691.6,370.8 L692.0,373.5 L692.1,375.7 L692.6,376.3 L692.7,372.7 L693.4,371.8 L693.7,369.6 L694.4,372.5 L694.7,371.6 L695.3,368.5 L695.4,369.5 L695.6,369.6 L696.2,372.3 L696.8,373.7 L697.2,376.2 L697.6,372.1 L697.7,371.2 L698.3,375.2 L698.4,371.4 L699.0,370.9 L699.4,368.3 L699.6,371.4 L700.2,368.9 L700.9,371.5 L700.9,374.0 L701.5,375.3 L702.0,374.6 L702.5,376.2 L702.4,370.6 L703.2,368.6 L703.5,367.2 L703.8,365.2 L704.7,364.2 L704.5,364.9 L704.8,364.2 L704.9,369.7 L705.7,370.2 L706.1,375.0 L706.3,375.2 L706.3,376.8 L707.1,373.2 L707.5,374.3 L707.4,373.0 L708.4,372.2 L708.8,369.8 L708.8,366.4 L708.7,368.0 L709.1,364.7 L709.1,360.5 L709.6,358.7 L710.0,356.5 L709.6,357.7 L710.3,352.4 L710.3,354.3 L710.9,350.0 L711.4,353.1 L711.6,351.3 L711.9,353.3 L712.6,353.4 L712.8,352.4 L713.1,350.1 L714.2,349.9 L714.3,351.2 L714.7,350.0 L715.2,346.2 L715.2,345.3 L716.3,343.8 L716.6,340.9 L716.8,340.1 L717.3,338.0 L717.7,335.5 L718.3,333.9 L718.3,332.0 L719.1,330.3 L719.1,330.3 L718.9,328.0 L719.5,322.0 L719.5,319.8 L719.7,318.7 L720.1,316.4 L720.1,311.9 L720.8,316.1 L721.2,313.9 L720.9,318.4 L721.6,318.0 L721.6,324.5 L722.1,320.9 L722.2,323.7 L722.9,325.7 L722.9,329.8 L723.3,327.9 L722.8,329.1 L723.3,323.8 L723.2,321.3 L723.5,319.0 L723.4,316.3 L723.1,316.1 L723.5,314.0 L723.5,313.2 L723.4,307.9 L723.3,302.1 L723.5,305.1 L724.0,300.8 L723.5,298.5 L724.3,304.7 L724.3,304.3 L724.7,301.5 L725.7,307.3 L726.1,307.1 L726.4,309.3 L726.8,307.6 L726.7,304.1 L727.3,307.7 L727.7,298.0 L727.7,298.2 L727.9,299.2 L728.5,301.3 L728.9,304.1 L729.3,309.7 L729.0,310.4 L729.6,310.3 L729.8,311.4 L730.1,313.3 L730.3,319.0 L730.7,314.5 L730.7,311.0 L731.5,309.3 L731.4,312.9 L731.7,302.3 L732.5,306.1 L732.6,303.8 L733.0,307.1 L733.6,306.2 L733.7,313.1 L733.5,314.4 L734.2,315.7 L733.9,316.1 L734.2,317.9 L734.4,318.6 L734.5,321.3 L734.3,326.0 L734.7,326.7 L735.1,324.9 L735.2,318.3 L735.3,319.6 L735.7,319.1 L735.9,321.3 L736.2,317.9 L737.2,319.6 L737.2,321.9 L738.0,317.2 L738.3,322.7 L738.6,324.1 L739.3,327.3 L739.5,327.5 L739.5,326.6 L740.2,328.5 L740.4,326.1 L741.2,322.8 L741.6,324.0 L742.2,329.1 L742.3,327.2 L742.8,330.3 L743.0,327.9 L743.3,330.2 L743.6,336.1 L744.6,336.5 L744.6,333.3 L744.9,331.5 L745.6,326.4 L745.4,325.1 L746.0,325.3 L746.1,320.4 L746.5,324.4 L747.1,326.7 L747.5,328.0 L747.8,328.7 L748.2,332.3 L749.0,331.2 L749.1,325.3 L749.5,327.4 L749.9,323.6 L750.3,321.3 L750.9,318.7 L751.0,318.5 L751.4,315.4 L752.0,317.0 L752.3,316.7 L753.1,314.6 L753.2,314.5 L753.5,312.3 L753.5,306.4 L753.5,308.1 L753.4,305.8 L753.7,303.2 L753.7,296.4 L754.2,301.8 L754.9,304.7 L754.7,308.8 L755.7,304.1 L755.8,310.3 L755.8,309.4 L756.6,311.8 L756.9,315.2 L757.1,317.4 L757.3,322.6 L757.4,321.5 L758.1,321.3 L758.5,321.4 L758.8,321.5 L759.1,320.4 L759.5,320.8 L759.8,323.3 L760.0,322.2 L760.6,325.4 L761.4,323.4 L761.6,326.6 L761.6,325.5 L762.0,327.7 L762.9,330.8 L763.2,326.0 L763.6,329.2 L764.0,326.0 L764.3,323.8 L765.0,324.3 L765.4,321.6 L765.5,316.4 L766.0,318.2 L766.5,324.5 L767.2,322.2 L767.5,329.8 L767.9,323.3 L768.3,322.1 L768.5,317.6 L768.6,321.4 L769.0,319.1 L769.9,322.5 L770.1,323.0 L770.6,324.0 L770.9,326.6 L771.5,327.9 L772.0,333.4 L771.9,333.2 L772.7,331.5 L773.0,330.3 L773.3,326.5 L773.6,326.0 L773.7,325.1 L774.1,323.2 L774.8,318.9 L774.7,316.5 L775.3,318.4 L775.5,314.5 L775.8,319.2 L776.3,320.8 L776.4,323.7 L776.9,328.7 L777.1,328.7 L777.4,328.1 L778.0,327.1 L778.1,328.7 L779.0,324.9 L779.0,329.6 L779.2,331.1 L779.5,332.4 L779.6,331.9 L780.0,334.2 L779.9,338.2 L780.5,343.6 L780.2,335.6 L781.0,343.0 L781.1,341.8 L781.8,337.6 L782.4,334.7 L782.5,336.4 L782.5,337.3 L782.5,340.8 L782.7,343.6 L782.8,345.0 L783.3,345.0 L783.4,348.2 L783.8,350.4 L782.9,351.0 L782.9,350.3 L782.4,348.2 L781.7,346.1 L781.4,345.2 L781.8,347.3 L782.6,349.7 L782.9,349.0 L783.0,354.0 L783.7,352.4 L784.2,351.0 L784.7,350.0 L785.2,351.4 L785.0,349.4 L785.9,350.2 L786.4,348.4 L786.6,350.3 L787.1,345.9 L787.2,349.4 L788.1,353.1 L788.3,354.7 L788.8,353.0 L788.9,358.1 L789.1,359.3 L790.0,364.7 L790.0,365.9 L790.9,364.2 L791.1,361.7 L791.2,361.4 L791.7,360.7 L792.5,361.8 L792.7,357.4 L793.1,357.8 L793.3,354.8 L793.8,352.2 L794.0,354.0 L794.3,351.7 L794.8,356.6 L795.5,358.4 L796.0,357.9 L796.6,359.3 L796.5,366.1 L797.1,365.6 L797.6,369.7 L797.3,370.0 L798.2,367.3 L798.2,364.7 L798.7,364.0 L799.4,362.7 L799.3,363.2 L800.2,363.8 L800.3,364.6 L801.1,366.6 L800.9,363.9 L801.6,367.8 L801.7,364.9 L802.0,362.3 L802.7,360.0 L803.0,357.4 L802.9,354.6 L803.3,352.4 L804.1,356.8 L804.1,359.1 L804.9,360.0 L805.5,361.2 L805.7,360.4 L806.0,356.6 L806.2,354.4 L806.2,350.3 L806.5,350.4 L807.2,351.9 L807.5,350.1 L807.9,348.0 L808.6,348.2 L808.5,346.4 L809.0,348.1 L809.9,347.3 L809.4,351.6 L809.6,351.6 L809.5,351.4 L809.3,357.9 L809.5,357.1 L810.2,359.3 L810.6,363.0 L810.7,366.5 L811.2,366.4 L811.5,368.3 L812.0,367.4 L812.8,367.5 L812.8,364.6 L813.5,362.9 L813.5,361.3 L813.9,363.9 L814.1,367.7 L814.9,370.8 L814.8,370.9 L815.1,374.6 L816.0,374.7 L815.8,375.4 L816.3,375.2 L816.9,377.5 L817.1,378.3 L817.6,380.5 L817.8,381.6 L818.6,382.6 L819.0,385.4 L819.4,387.8 L819.7,389.0 L820.1,390.7 L820.4,391.3 L820.6,385.2 L820.5,384.6 L820.5,384.1 L820.7,377.9 L821.1,376.9 L821.3,375.5 L821.3,373.5 L821.0,371.5 L821.3,370.0 L821.6,365.9 L821.8,361.9 L821.9,363.2 L821.9,366.9 L821.6,369.4 L821.8,368.0 L822.3,368.4 L822.4,370.5 L822.3,375.1 L822.6,377.3 L822.5,379.4 L823.0,381.4 L822.6,383.1 L823.1,386.3 L823.4,384.2 L823.4,382.3 L823.9,378.6 L824.5,377.8 L824.8,380.1 L824.9,381.2 L825.1,382.7 L825.0,380.0 L825.8,389.2 L825.5,389.0 L826.2,386.4 L826.4,384.3 L826.8,382.6 L827.1,382.2 L827.8,382.6 L828.2,383.3 L828.5,381.7 L828.8,384.4 L829.0,384.6 L830.1,385.5 L830.2,382.7 L829.8,382.0 L830.5,378.5 L830.6,376.8 L830.9,374.0 L831.0,375.2 L831.9,376.0 L832.0,374.2 L832.1,373.6 L832.7,374.5 L833.1,377.6 L833.3,381.1 L833.6,380.2 L833.7,380.2 L834.1,387.5 L834.7,391.3 L834.6,385.9 L834.8,383.3 L835.3,381.5 L834.9,378.6 L835.1,376.5 L835.4,381.3 L835.6,385.3 L836.2,384.6 L836.1,386.8 L836.8,387.6 L837.2,389.3 L837.9,387.5 L838.3,392.4 L838.2,389.7 L838.5,392.3 L839.5,393.0 L839.6,395.7 L839.8,398.7 L840.1,400.0 L840.6,400.9 L841.4,402.8 L841.5,404.0 L841.8,406.4 L842.7,405.0 L842.7,403.1 L843.3,407.5 L843.5,408.5 L844.1,410.5 L844.8,408.8 L845.0,407.2 L845.3,406.6 L845.9,405.2 L845.8,403.0 L846.5,402.9 L847.1,402.9 L847.7,403.4 L847.7,401.6 L848.5,400.2 L848.9,401.6 L848.8,398.3 L849.6,397.3 L849.7,396.8 L850.5,396.5 L850.5,397.5 L850.7,399.6 L850.9,401.9 L851.1,406.1 L851.5,407.6 L852.2,407.7 L852.2,408.1 L852.8,411.0 L853.4,408.0 L853.5,406.8 L854.2,406.1 L854.3,406.6 L855.1,408.4 L855.5,409.3 L856.2,410.2 L856.3,407.2 L857.0,406.6 L857.4,406.6 L857.8,407.2 L858.3,406.3 L858.6,405.3 L858.9,402.5 L859.4,405.0 L859.8,404.4 L860.1,405.8 L860.4,404.8 L860.8,406.8 L861.5,409.7 L862.0,409.8 L862.7,406.5 L862.7,407.2 L863.0,405.2 L863.7,404.3 L864.2,404.2 L864.4,403.2 L865.1,402.4 L865.3,400.9 L865.6,404.7 L865.9,399.5 L866.6,399.7 L866.7,399.4 L867.3,398.3 L867.4,395.7 L867.9,399.0 L868.8,397.5 L868.7,398.6 L869.4,399.4 L870.0,399.8 L870.4,402.1 L870.8,399.8 L870.9,402.3 L871.7,401.0 L871.6,402.9 L872.5,403.6 L873.1,404.4 L873.1,405.0 L873.5,404.7 L874.4,407.1 L874.6,405.7 L874.9,407.2 L875.5,406.6 L875.9,404.7 L876.4,404.1 L876.4,402.3 L876.6,403.9 L877.2,402.6 L878.0,402.0 L878.3,401.1 L878.8,400.2 L879.1,399.9 L879.5,399.6 L880.0,399.8 L880.4,401.4 L880.9,404.8 L880.9,406.5 L881.5,405.7 L881.5,408.0 L882.2,408.3 L882.7,410.3 L882.7,409.2 L883.2,410.2 L883.9,408.2 L884.6,408.7 L885.0,410.1 L885.0,410.1 L885.6,409.1 L885.9,409.0 L886.4,408.1 L886.4,406.8 L887.2,406.0 L887.5,407.5 L887.9,407.7 L888.4,409.1 L888.7,408.3 L889.4,406.5 L889.8,411.1 L890.0,410.5 L890.4,412.3 L891.0,411.5 L891.2,413.2 L891.6,412.9 L892.2,412.5 L892.9,413.3 L893.1,415.5 L893.7,416.8 L894.1,416.8 L894.6,417.5 L895.2,418.3 L895.3,421.7 L896.0,419.2 L896.1,420.9 L896.5,420.3 L896.9,419.3 L897.6,420.7 L897.9,421.4" fill="none" stroke="#0090fb" stroke-width="3.5" stroke-linejoin="miter" stroke-miterlimit="4"/>
<line x1="0" y1="418.5" x2="895" y2="418.5" stroke="#0090fb" stroke-width="1" stroke-dasharray="2,1" stroke-dashoffset="1"/>
<line x1="276.5" y1="61" x2="276.5" y2="495" stroke="#758696" stroke-width="1" stroke-dasharray="5,6" stroke-dashoffset="10"/>
<line x1="0" y1="353.5" x2="895" y2="353.5" stroke="#758696" stroke-width="1" stroke-dasharray="5,6" stroke-dashoffset="4"/>
</svg>
<rect x="896" y="62" width="1" height="460" fill="#4a4e59"/>
<rect x="0" y="495" width="896" height="1" fill="#4a4e59"/>
<rect x="897" y="85" width="4" height="1" fill="#4a4e59"/>
<rect x="897" y="133" width="4" height="1" fill="#4a4e59"/>
<rect x="897" y="182" width="4" height="1" fill="#4a4e59"/>
<rect x="897" y="231" width="4" height="1" fill="#4a4e59"/>
<rect x="897" y="280" width="4" height="1" fill="#4a4e59"/>
<rect x="897" y="329" width="4" height="1" fill="#4a4e59"/>
<rect x="897" y="378" width="4" height="1" fill="#4a4e59"/>
<rect x="897" y="427" width="4" height="1" fill="#4a4e59"/>
<rect x="897" y="476" width="4" height="1" fill="#4a4e59"/>
<rect x="122" y="496" width="1" height="3" fill="#4a4e59"/>
<rect x="414" y="496" width="1" height="3" fill="#4a4e59"/>
<rect x="563" y="496" width="1" height="3" fill="#4a4e59"/>
<rect x="715" y="496" width="1" height="3" fill="#4a4e59"/>
<rect x="864" y="496" width="1" height="3" fill="#4a4e59"/>
</svg>
<div class="t" style="left:905.2px;top:78.7px;font-size:12.4px;line-height:15px;transform:scaleX(0.921);transform-origin:0 0;color:#4a4e59;-webkit-text-stroke:0.25px;">0.00001800</div>
<div class="t" style="left:905.2px;top:126.7px;font-size:12.4px;line-height:15px;transform:scaleX(0.921);transform-origin:0 0;color:#4a4e59;-webkit-text-stroke:0.25px;">0.00001600</div>
<div class="t" style="left:905.2px;top:175.7px;font-size:12.4px;line-height:15px;transform:scaleX(0.921);transform-origin:0 0;color:#4a4e59;-webkit-text-stroke:0.25px;">0.00001400</div>
<div class="t" style="left:905.2px;top:224.7px;font-size:12.4px;line-height:15px;transform:scaleX(0.921);transform-origin:0 0;color:#4a4e59;-webkit-text-stroke:0.25px;">0.00001200</div>
<div class="t" style="left:905.2px;top:273.7px;font-size:12.4px;line-height:15px;transform:scaleX(0.921);transform-origin:0 0;color:#4a4e59;-webkit-text-stroke:0.25px;">0.00001000</div>
<div class="t" style="left:905.2px;top:322.7px;font-size:12.4px;line-height:15px;transform:scaleX(0.921);transform-origin:0 0;color:#4a4e59;-webkit-text-stroke:0.25px;">0.00000800</div>
<div class="t" style="left:905.2px;top:371.7px;font-size:12.4px;line-height:15px;transform:scaleX(0.921);transform-origin:0 0;color:#4a4e59;-webkit-text-stroke:0.25px;">0.00000600</div>
<div class="t" style="left:905.2px;top:420.7px;font-size:12.4px;line-height:15px;transform:scaleX(0.921);transform-origin:0 0;color:#4a4e59;-webkit-text-stroke:0.25px;">0.00000400</div>
<div class="t" style="left:905.2px;top:469.7px;font-size:12.4px;line-height:15px;transform:scaleX(0.921);transform-origin:0 0;color:#4a4e59;-webkit-text-stroke:0.25px;">0.00000200</div>
<div class="a" style="left:879px;top:344px;width:16px;height:18px;background:#4c525e;"><svg class="a" style="left:0;top:0" width="16" height="18" viewBox="0 0 16 18"><path d="M8.3 3.7v11.2M2.8 9.3h11.1" stroke="#fff" stroke-width="1.1" fill="none"/></svg></div>
<div class="a" style="left:897px;top:344px;width:78px;height:18px;background:#4c525e;"></div>
<div class="a" style="left:896px;top:353px;width:4px;height:1px;background:#fff;"></div>
<div class="a" style="left:837px;top:409px;width:58px;height:18px;background:#0090fb;"></div>
<div class="a" style="left:897px;top:409px;width:78px;height:18px;background:#0090fb;"></div>
<div class="a" style="left:896px;top:418px;width:4px;height:1px;background:#fff;"></div>
<div class="a" style="left:916px;top:428px;width:59px;height:17.5px;background:#0090fb;"></div>
<div class="a" style="left:223px;top:496px;width:106px;height:23px;background:#4c525e;border-radius:0 0 2.5px 2.5px;"></div>
<div class="a" style="left:276px;top:496px;width:1px;height:4px;background:#fff;"></div>
<div class="a" style="left:0;top:522px;width:975px;height:1px;background:#e3e8ec;"></div>
<div class="a" style="left:0;top:561px;width:975px;height:1px;background:#c9ccd3;"></div>
<div class="a" style="left:134px;top:553px;width:15px;height:2px;background:#0090fb;"></div>
<div class="a" style="left:969px;top:556px;width:6px;height:6px;background:#c9ccd3;"></div>
<div class="a" style="left:965px;top:551px;width:10px;height:10px;background:#fff;border-bottom-right-radius:6px;"></div>
<div class="t" style="left:22.8px;top:8.12px;font-size:13.5px;line-height:16px;letter-spacing:0.054px;color:#fff;-webkit-text-stroke:0.1px;">Binance</div>
<div class="t" style="left:23.5px;top:22.87px;font-size:20.3px;line-height:24px;transform:scaleX(0.94);transform-origin:0 0;color:#fff;-webkit-text-stroke:0.1px;">0.00000438</div>
<div class="t" style="left:181.07px;top:8.12px;font-size:13.5px;line-height:16px;transform:scaleX(1.125);transform-origin:0 0;color:#758696;-webkit-text-stroke:0.1px;">Bittrex</div>
<div class="t" style="left:181.7px;top:22.87px;font-size:20.3px;line-height:24px;transform:scaleX(0.95);transform-origin:0 0;color:#131722;-webkit-text-stroke:0.1px;">0.00000440</div>
<div class="t" style="left:10.91px;top:70.33px;font-size:15.5px;line-height:19px;transform:scaleX(0.99);transform-origin:0 0;color:#4a4e59;-webkit-text-stroke:0.25px;">Ravencoin</div>
<div class="t" style="left:89.7px;top:70.33px;font-size:15.5px;line-height:19px;letter-spacing:0.0px;color:#4a4e59;-webkit-text-stroke:0.25px;">/</div>
<div class="t" style="left:101.53px;top:70.33px;font-size:15.5px;line-height:19px;transform:scaleX(1.071);transform-origin:0 0;color:#4a4e59;-webkit-text-stroke:0.25px;">Bitcoin</div>
<div class="t" style="left:155.3px;top:70.33px;font-size:15.5px;line-height:19px;letter-spacing:0.0px;color:#9db2bd;-webkit-text-stroke:0.25px;">·</div>
<div class="t" style="left:164.3px;top:70.33px;font-size:15.5px;line-height:19px;transform:scaleX(0.899);transform-origin:0 0;color:#4a4e59;-webkit-text-stroke:0.25px;">120</div>
<div class="t" style="left:192.5px;top:70.33px;font-size:15.5px;line-height:19px;letter-spacing:0.0px;color:#9db2bd;-webkit-text-stroke:0.25px;">·</div>
<div class="t" style="left:201.33px;top:70.33px;font-size:15.5px;line-height:19px;transform:scaleX(0.873);transform-origin:0 0;color:#4a4e59;-webkit-text-stroke:0.25px;">BINANCE</div>
<div class="t" style="left:279.4px;top:73.66px;font-size:13.4px;line-height:16px;transform:scaleX(0.923);transform-origin:0 0;color:#0090fb;-webkit-text-stroke:0.15px;">0.00000702</div>
<div class="t" style="left:357.3px;top:73.66px;font-size:13.4px;line-height:16px;transform:scaleX(0.911);transform-origin:0 0;color:#0090fb;-webkit-text-stroke:0.15px;">+0.00000068</div>
<div class="t" style="left:434.4px;top:73.66px;font-size:13.4px;line-height:16px;transform:scaleX(0.883);transform-origin:0 0;color:#0090fb;-webkit-text-stroke:0.15px;">(+10.73%)</div>
<div class="t" style="left:905.3px;top:345.9px;font-size:12.4px;line-height:15px;transform:scaleX(0.917);transform-origin:0 0;color:#fff;-webkit-text-stroke:0.1px;">0.00000703</div>
<div class="t" style="left:905.4px;top:411.0px;font-size:12.4px;line-height:15px;transform:scaleX(0.915);transform-origin:0 0;color:#fff;-webkit-text-stroke:0.1px;">0.00000438</div>
<div class="t" style="left:844.76px;top:410.9px;font-size:12.4px;line-height:15px;transform:scaleX(0.838);transform-origin:0 0;color:#fff;-webkit-text-stroke:0.15px;">BINANCE</div>
<div class="t" style="left:920.7px;top:429.67px;font-size:12.2px;line-height:15px;transform:scaleX(0.942);transform-origin:0 0;color:#fff;-webkit-text-stroke:0.1px;">01:43:48</div>
<div class="t" style="left:229.3px;top:500.06px;font-size:12.8px;line-height:15px;transform:scaleX(0.882);transform-origin:0 0;color:#fff;-webkit-text-stroke:0.05px;">04 Mar '19</div>
<div class="t" style="left:294.1px;top:500.06px;font-size:12.8px;line-height:15px;transform:scaleX(0.915);transform-origin:0 0;color:#fff;-webkit-text-stroke:0.05px;">02:00</div>
<div class="t" style="left:11.14px;top:533.88px;font-size:14.2px;line-height:17px;transform:scaleX(0.858);transform-origin:0 0;color:#131722;-webkit-text-stroke:0.3px;">1D</div>
<div class="t" style="left:41.2px;top:533.88px;font-size:14.2px;line-height:17px;transform:scaleX(0.81);transform-origin:0 0;color:#131722;-webkit-text-stroke:0.3px;">5D</div>
<div class="t" style="left:71.11px;top:533.88px;font-size:14.2px;line-height:17px;transform:scaleX(0.894);transform-origin:0 0;color:#131722;-webkit-text-stroke:0.3px;">1M</div>
<div class="t" style="left:102.8px;top:533.88px;font-size:14.2px;line-height:17px;transform:scaleX(0.868);transform-origin:0 0;color:#131722;-webkit-text-stroke:0.3px;">3M</div>
<div class="t" style="left:133.8px;top:533.88px;font-size:14.2px;line-height:17px;transform:scaleX(0.895);transform-origin:0 0;color:#0090fb;-webkit-text-stroke:0.3px;">6M</div>
<div class="t" style="left:164.8px;top:533.88px;font-size:14.2px;line-height:17px;transform:scaleX(0.86);transform-origin:0 0;color:#131722;-webkit-text-stroke:0.3px;">YTD</div>
<div class="t" style="left:203.7px;top:533.88px;font-size:14.2px;line-height:17px;transform:scaleX(0.799);transform-origin:0 0;color:#131722;-webkit-text-stroke:0.3px;">1Y</div>
<div class="t" style="left:233.3px;top:533.88px;font-size:14.2px;line-height:17px;transform:scaleX(0.777);transform-origin:0 0;color:#131722;-webkit-text-stroke:0.3px;">5Y</div>
<div class="t" style="left:262px;top:533.88px;font-size:14.2px;line-height:17px;letter-spacing:0.093px;color:#131722;-webkit-text-stroke:0.3px;">All</div>
<div class="t" style="left:917.9px;top:533.88px;font-size:14.2px;line-height:17px;letter-spacing:0.0px;color:#131722;-webkit-text-stroke:0.3px;">%</div>
<div class="t" style="left:945.8px;top:533.88px;font-size:14.2px;line-height:17px;transform:scaleX(0.964);transform-origin:0 0;color:#131722;-webkit-text-stroke:0.3px;">log</div>
<div class="t" style="left:112.35px;top:503.87px;font-size:12.5px;line-height:15px;transform:scaleX(0.846);transform-origin:0 0;color:#4a4e59;font-weight:bold;">Feb</div>
<div class="t" style="left:404.05px;top:503.87px;font-size:12.5px;line-height:15px;transform:scaleX(0.909);transform-origin:0 0;color:#4a4e59;font-weight:bold;">Apr</div>
<div class="t" style="left:551.9px;top:503.87px;font-size:12.5px;line-height:15px;transform:scaleX(0.903);transform-origin:0 0;color:#4a4e59;font-weight:bold;">May</div>
<div class="t" style="left:705.1px;top:503.87px;font-size:12.5px;line-height:15px;transform:scaleX(0.908);transform-origin:0 0;color:#4a4e59;font-weight:bold;">Jun</div>
<div class="t" style="left:856.1px;top:503.87px;font-size:12.5px;line-height:15px;transform:scaleX(0.887);transform-origin:0 0;color:#4a4e59;font-weight:bold;">Jul</div>
</body></html>
